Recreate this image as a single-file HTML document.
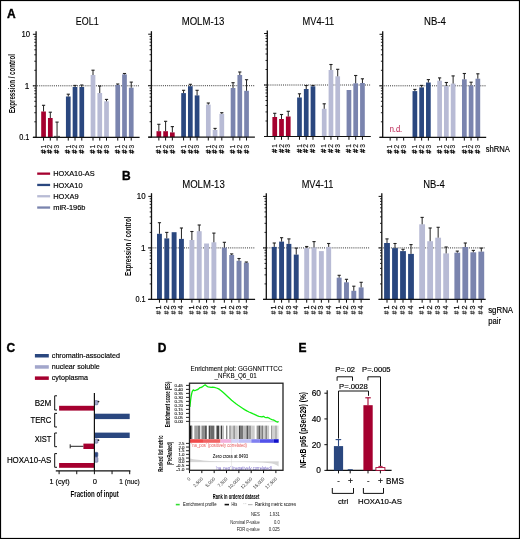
<!DOCTYPE html>
<html><head><meta charset="utf-8"><style>
html,body{margin:0;padding:0;background:#fff;}
svg{display:block;will-change:transform;}
text{font-family:"Liberation Sans",sans-serif;}
</style></head><body>
<svg width="520" height="539" viewBox="0 0 520 539">
<rect x="0.5" y="0.5" width="519" height="538" fill="#fff" stroke="#000" stroke-width="1.2"/>
<text x="7" y="17.5" font-size="12" text-anchor="start" fill="#000" stroke="#000" stroke-width="0.35" font-weight="bold">A</text>
<text x="87.2" y="25.3" font-size="10.2" text-anchor="middle" fill="#000" stroke="#000" stroke-width="0.1" textLength="22.8" lengthAdjust="spacingAndGlyphs">EOL1</text>
<line x1="36.10" y1="31.30" x2="36.10" y2="137.80" stroke="#111" stroke-width="1.3"/>
<line x1="32.90" y1="137.30" x2="36.10" y2="137.30" stroke="#111" stroke-width="1"/>
<line x1="34.30" y1="121.80" x2="36.10" y2="121.80" stroke="#111" stroke-width="0.9"/>
<line x1="34.30" y1="112.73" x2="36.10" y2="112.73" stroke="#111" stroke-width="0.9"/>
<line x1="34.30" y1="106.29" x2="36.10" y2="106.29" stroke="#111" stroke-width="0.9"/>
<line x1="34.30" y1="101.30" x2="36.10" y2="101.30" stroke="#111" stroke-width="0.9"/>
<line x1="34.30" y1="97.23" x2="36.10" y2="97.23" stroke="#111" stroke-width="0.9"/>
<line x1="34.30" y1="93.78" x2="36.10" y2="93.78" stroke="#111" stroke-width="0.9"/>
<line x1="34.30" y1="90.79" x2="36.10" y2="90.79" stroke="#111" stroke-width="0.9"/>
<line x1="34.30" y1="88.16" x2="36.10" y2="88.16" stroke="#111" stroke-width="0.9"/>
<line x1="32.90" y1="85.80" x2="36.10" y2="85.80" stroke="#111" stroke-width="1"/>
<line x1="34.30" y1="70.30" x2="36.10" y2="70.30" stroke="#111" stroke-width="0.9"/>
<line x1="34.30" y1="61.23" x2="36.10" y2="61.23" stroke="#111" stroke-width="0.9"/>
<line x1="34.30" y1="54.79" x2="36.10" y2="54.79" stroke="#111" stroke-width="0.9"/>
<line x1="34.30" y1="49.80" x2="36.10" y2="49.80" stroke="#111" stroke-width="0.9"/>
<line x1="34.30" y1="45.73" x2="36.10" y2="45.73" stroke="#111" stroke-width="0.9"/>
<line x1="34.30" y1="42.28" x2="36.10" y2="42.28" stroke="#111" stroke-width="0.9"/>
<line x1="34.30" y1="39.29" x2="36.10" y2="39.29" stroke="#111" stroke-width="0.9"/>
<line x1="34.30" y1="36.66" x2="36.10" y2="36.66" stroke="#111" stroke-width="0.9"/>
<line x1="32.90" y1="34.30" x2="36.10" y2="34.30" stroke="#111" stroke-width="1"/>
<line x1="32.90" y1="85.80" x2="139.60" y2="85.80" stroke="#333" stroke-width="1" stroke-dasharray="1,1.1"/>
<rect x="41.20" y="111.50" width="4.70" height="25.80" fill="#a5002f"/>
<line x1="43.55" y1="105.30" x2="43.55" y2="111.50" stroke="#222" stroke-width="1"/>
<line x1="41.95" y1="105.30" x2="45.15" y2="105.30" stroke="#222" stroke-width="1.1"/>
<line x1="43.55" y1="137.30" x2="43.55" y2="140.60" stroke="#111" stroke-width="1"/>
<rect x="47.95" y="118.00" width="4.70" height="19.30" fill="#a5002f"/>
<line x1="50.30" y1="112.20" x2="50.30" y2="118.00" stroke="#222" stroke-width="1"/>
<line x1="48.70" y1="112.20" x2="51.90" y2="112.20" stroke="#222" stroke-width="1.1"/>
<line x1="50.30" y1="137.30" x2="50.30" y2="140.60" stroke="#111" stroke-width="1"/>
<rect x="54.70" y="137.00" width="4.70" height="0.30" fill="#a5002f"/>
<line x1="57.05" y1="122.10" x2="57.05" y2="137.00" stroke="#222" stroke-width="1"/>
<line x1="55.45" y1="122.10" x2="58.65" y2="122.10" stroke="#222" stroke-width="1.1"/>
<line x1="57.05" y1="137.30" x2="57.05" y2="140.60" stroke="#111" stroke-width="1"/>
<rect x="65.93" y="96.50" width="4.70" height="40.80" fill="#2a477f"/>
<line x1="68.28" y1="94.20" x2="68.28" y2="96.50" stroke="#222" stroke-width="1"/>
<line x1="66.68" y1="94.20" x2="69.88" y2="94.20" stroke="#222" stroke-width="1.1"/>
<line x1="68.28" y1="137.30" x2="68.28" y2="140.60" stroke="#111" stroke-width="1"/>
<rect x="72.68" y="87.00" width="4.70" height="50.30" fill="#2a477f"/>
<line x1="75.03" y1="85.40" x2="75.03" y2="87.00" stroke="#222" stroke-width="1"/>
<line x1="73.43" y1="85.40" x2="76.63" y2="85.40" stroke="#222" stroke-width="1.1"/>
<line x1="75.03" y1="137.30" x2="75.03" y2="140.60" stroke="#111" stroke-width="1"/>
<rect x="79.43" y="87.00" width="4.70" height="50.30" fill="#2a477f"/>
<line x1="81.78" y1="85.00" x2="81.78" y2="87.00" stroke="#222" stroke-width="1"/>
<line x1="80.18" y1="85.00" x2="83.38" y2="85.00" stroke="#222" stroke-width="1.1"/>
<line x1="81.78" y1="137.30" x2="81.78" y2="140.60" stroke="#111" stroke-width="1"/>
<rect x="90.66" y="75.00" width="4.70" height="62.30" fill="#b8bbd5"/>
<line x1="93.01" y1="70.20" x2="93.01" y2="75.00" stroke="#222" stroke-width="1"/>
<line x1="91.41" y1="70.20" x2="94.61" y2="70.20" stroke="#222" stroke-width="1.1"/>
<line x1="93.01" y1="137.30" x2="93.01" y2="140.60" stroke="#111" stroke-width="1"/>
<rect x="97.41" y="93.00" width="4.70" height="44.30" fill="#b8bbd5"/>
<line x1="99.76" y1="86.00" x2="99.76" y2="93.00" stroke="#222" stroke-width="1"/>
<line x1="98.16" y1="86.00" x2="101.36" y2="86.00" stroke="#222" stroke-width="1.1"/>
<line x1="99.76" y1="137.30" x2="99.76" y2="140.60" stroke="#111" stroke-width="1"/>
<rect x="104.16" y="101.30" width="4.70" height="36.00" fill="#b8bbd5"/>
<line x1="106.51" y1="99.40" x2="106.51" y2="101.30" stroke="#222" stroke-width="1"/>
<line x1="104.91" y1="99.40" x2="108.11" y2="99.40" stroke="#222" stroke-width="1.1"/>
<line x1="106.51" y1="137.30" x2="106.51" y2="140.60" stroke="#111" stroke-width="1"/>
<rect x="115.39" y="85.00" width="4.70" height="52.30" fill="#7a84ae"/>
<line x1="117.74" y1="84.00" x2="117.74" y2="85.00" stroke="#222" stroke-width="1"/>
<line x1="116.14" y1="84.00" x2="119.34" y2="84.00" stroke="#222" stroke-width="1.1"/>
<line x1="117.74" y1="137.30" x2="117.74" y2="140.60" stroke="#111" stroke-width="1"/>
<rect x="122.14" y="74.40" width="4.70" height="62.90" fill="#7a84ae"/>
<line x1="124.49" y1="73.50" x2="124.49" y2="74.40" stroke="#222" stroke-width="1"/>
<line x1="122.89" y1="73.50" x2="126.09" y2="73.50" stroke="#222" stroke-width="1.1"/>
<line x1="124.49" y1="137.30" x2="124.49" y2="140.60" stroke="#111" stroke-width="1"/>
<rect x="128.89" y="87.70" width="4.70" height="49.60" fill="#7a84ae"/>
<line x1="131.24" y1="82.10" x2="131.24" y2="87.70" stroke="#222" stroke-width="1"/>
<line x1="129.64" y1="82.10" x2="132.84" y2="82.10" stroke="#222" stroke-width="1.1"/>
<line x1="131.24" y1="137.30" x2="131.24" y2="140.60" stroke="#111" stroke-width="1"/>
<line x1="32.90" y1="137.30" x2="139.60" y2="137.30" stroke="#111" stroke-width="1.2"/>
<text x="45.70" y="153.60" font-size="6.8" fill="#111" stroke="#111" stroke-width="0.4" transform="rotate(-90 45.70 153.60)">#</text>
<text x="45.70" y="148.50" font-size="6.6" fill="#111" stroke="#111" stroke-width="0.15" transform="rotate(-90 45.70 148.50)">1</text>
<text x="52.45" y="153.60" font-size="6.8" fill="#111" stroke="#111" stroke-width="0.4" transform="rotate(-90 52.45 153.60)">#</text>
<text x="52.45" y="148.50" font-size="6.6" fill="#111" stroke="#111" stroke-width="0.15" transform="rotate(-90 52.45 148.50)">2</text>
<text x="59.20" y="153.60" font-size="6.8" fill="#111" stroke="#111" stroke-width="0.4" transform="rotate(-90 59.20 153.60)">#</text>
<text x="59.20" y="148.50" font-size="6.6" fill="#111" stroke="#111" stroke-width="0.15" transform="rotate(-90 59.20 148.50)">3</text>
<text x="70.50" y="153.60" font-size="6.8" fill="#111" stroke="#111" stroke-width="0.4" transform="rotate(-90 70.50 153.60)">#</text>
<text x="70.50" y="148.50" font-size="6.6" fill="#111" stroke="#111" stroke-width="0.15" transform="rotate(-90 70.50 148.50)">1</text>
<text x="77.25" y="153.60" font-size="6.8" fill="#111" stroke="#111" stroke-width="0.4" transform="rotate(-90 77.25 153.60)">#</text>
<text x="77.25" y="148.50" font-size="6.6" fill="#111" stroke="#111" stroke-width="0.15" transform="rotate(-90 77.25 148.50)">2</text>
<text x="84.00" y="153.60" font-size="6.8" fill="#111" stroke="#111" stroke-width="0.4" transform="rotate(-90 84.00 153.60)">#</text>
<text x="84.00" y="148.50" font-size="6.6" fill="#111" stroke="#111" stroke-width="0.15" transform="rotate(-90 84.00 148.50)">3</text>
<text x="95.30" y="153.60" font-size="6.8" fill="#111" stroke="#111" stroke-width="0.4" transform="rotate(-90 95.30 153.60)">#</text>
<text x="95.30" y="148.50" font-size="6.6" fill="#111" stroke="#111" stroke-width="0.15" transform="rotate(-90 95.30 148.50)">1</text>
<text x="102.05" y="153.60" font-size="6.8" fill="#111" stroke="#111" stroke-width="0.4" transform="rotate(-90 102.05 153.60)">#</text>
<text x="102.05" y="148.50" font-size="6.6" fill="#111" stroke="#111" stroke-width="0.15" transform="rotate(-90 102.05 148.50)">2</text>
<text x="108.80" y="153.60" font-size="6.8" fill="#111" stroke="#111" stroke-width="0.4" transform="rotate(-90 108.80 153.60)">#</text>
<text x="108.80" y="148.50" font-size="6.6" fill="#111" stroke="#111" stroke-width="0.15" transform="rotate(-90 108.80 148.50)">3</text>
<text x="120.10" y="153.60" font-size="6.8" fill="#111" stroke="#111" stroke-width="0.4" transform="rotate(-90 120.10 153.60)">#</text>
<text x="120.10" y="148.50" font-size="6.6" fill="#111" stroke="#111" stroke-width="0.15" transform="rotate(-90 120.10 148.50)">1</text>
<text x="126.85" y="153.60" font-size="6.8" fill="#111" stroke="#111" stroke-width="0.4" transform="rotate(-90 126.85 153.60)">#</text>
<text x="126.85" y="148.50" font-size="6.6" fill="#111" stroke="#111" stroke-width="0.15" transform="rotate(-90 126.85 148.50)">2</text>
<text x="133.60" y="153.60" font-size="6.8" fill="#111" stroke="#111" stroke-width="0.4" transform="rotate(-90 133.60 153.60)">#</text>
<text x="133.60" y="148.50" font-size="6.6" fill="#111" stroke="#111" stroke-width="0.15" transform="rotate(-90 133.60 148.50)">3</text>
<text x="203" y="25.3" font-size="10.2" text-anchor="middle" fill="#000" stroke="#000" stroke-width="0.1" textLength="42.7" lengthAdjust="spacingAndGlyphs">MOLM-13</text>
<line x1="151.40" y1="31.20" x2="151.40" y2="137.70" stroke="#111" stroke-width="1.3"/>
<line x1="148.20" y1="137.20" x2="151.40" y2="137.20" stroke="#111" stroke-width="1"/>
<line x1="149.60" y1="121.70" x2="151.40" y2="121.70" stroke="#111" stroke-width="0.9"/>
<line x1="149.60" y1="112.63" x2="151.40" y2="112.63" stroke="#111" stroke-width="0.9"/>
<line x1="149.60" y1="106.19" x2="151.40" y2="106.19" stroke="#111" stroke-width="0.9"/>
<line x1="149.60" y1="101.20" x2="151.40" y2="101.20" stroke="#111" stroke-width="0.9"/>
<line x1="149.60" y1="97.13" x2="151.40" y2="97.13" stroke="#111" stroke-width="0.9"/>
<line x1="149.60" y1="93.68" x2="151.40" y2="93.68" stroke="#111" stroke-width="0.9"/>
<line x1="149.60" y1="90.69" x2="151.40" y2="90.69" stroke="#111" stroke-width="0.9"/>
<line x1="149.60" y1="88.06" x2="151.40" y2="88.06" stroke="#111" stroke-width="0.9"/>
<line x1="148.20" y1="85.70" x2="151.40" y2="85.70" stroke="#111" stroke-width="1"/>
<line x1="149.60" y1="70.20" x2="151.40" y2="70.20" stroke="#111" stroke-width="0.9"/>
<line x1="149.60" y1="61.13" x2="151.40" y2="61.13" stroke="#111" stroke-width="0.9"/>
<line x1="149.60" y1="54.69" x2="151.40" y2="54.69" stroke="#111" stroke-width="0.9"/>
<line x1="149.60" y1="49.70" x2="151.40" y2="49.70" stroke="#111" stroke-width="0.9"/>
<line x1="149.60" y1="45.63" x2="151.40" y2="45.63" stroke="#111" stroke-width="0.9"/>
<line x1="149.60" y1="42.18" x2="151.40" y2="42.18" stroke="#111" stroke-width="0.9"/>
<line x1="149.60" y1="39.19" x2="151.40" y2="39.19" stroke="#111" stroke-width="0.9"/>
<line x1="149.60" y1="36.56" x2="151.40" y2="36.56" stroke="#111" stroke-width="0.9"/>
<line x1="148.20" y1="34.20" x2="151.40" y2="34.20" stroke="#111" stroke-width="1"/>
<line x1="148.20" y1="85.70" x2="254.90" y2="85.70" stroke="#333" stroke-width="1" stroke-dasharray="1,1.1"/>
<rect x="156.50" y="131.20" width="4.70" height="6.00" fill="#a5002f"/>
<line x1="158.85" y1="124.30" x2="158.85" y2="131.20" stroke="#222" stroke-width="1"/>
<line x1="157.25" y1="124.30" x2="160.45" y2="124.30" stroke="#222" stroke-width="1.1"/>
<line x1="158.85" y1="137.20" x2="158.85" y2="140.50" stroke="#111" stroke-width="1"/>
<rect x="163.25" y="131.20" width="4.70" height="6.00" fill="#a5002f"/>
<line x1="165.60" y1="121.30" x2="165.60" y2="131.20" stroke="#222" stroke-width="1"/>
<line x1="164.00" y1="121.30" x2="167.20" y2="121.30" stroke="#222" stroke-width="1.1"/>
<line x1="165.60" y1="137.20" x2="165.60" y2="140.50" stroke="#111" stroke-width="1"/>
<rect x="170.00" y="132.40" width="4.70" height="4.80" fill="#a5002f"/>
<line x1="172.35" y1="126.60" x2="172.35" y2="132.40" stroke="#222" stroke-width="1"/>
<line x1="170.75" y1="126.60" x2="173.95" y2="126.60" stroke="#222" stroke-width="1.1"/>
<line x1="172.35" y1="137.20" x2="172.35" y2="140.50" stroke="#111" stroke-width="1"/>
<rect x="181.23" y="93.10" width="4.70" height="44.10" fill="#2a477f"/>
<line x1="183.58" y1="90.30" x2="183.58" y2="93.10" stroke="#222" stroke-width="1"/>
<line x1="181.98" y1="90.30" x2="185.18" y2="90.30" stroke="#222" stroke-width="1.1"/>
<line x1="183.58" y1="137.20" x2="183.58" y2="140.50" stroke="#111" stroke-width="1"/>
<rect x="187.98" y="86.20" width="4.70" height="51.00" fill="#2a477f"/>
<line x1="190.33" y1="84.30" x2="190.33" y2="86.20" stroke="#222" stroke-width="1"/>
<line x1="188.73" y1="84.30" x2="191.93" y2="84.30" stroke="#222" stroke-width="1.1"/>
<line x1="190.33" y1="137.20" x2="190.33" y2="140.50" stroke="#111" stroke-width="1"/>
<rect x="194.73" y="95.40" width="4.70" height="41.80" fill="#2a477f"/>
<line x1="197.08" y1="90.30" x2="197.08" y2="95.40" stroke="#222" stroke-width="1"/>
<line x1="195.48" y1="90.30" x2="198.68" y2="90.30" stroke="#222" stroke-width="1.1"/>
<line x1="197.08" y1="137.20" x2="197.08" y2="140.50" stroke="#111" stroke-width="1"/>
<rect x="205.96" y="104.60" width="4.70" height="32.60" fill="#b8bbd5"/>
<line x1="208.31" y1="103.00" x2="208.31" y2="104.60" stroke="#222" stroke-width="1"/>
<line x1="206.71" y1="103.00" x2="209.91" y2="103.00" stroke="#222" stroke-width="1.1"/>
<line x1="208.31" y1="137.20" x2="208.31" y2="140.50" stroke="#111" stroke-width="1"/>
<rect x="212.71" y="130.00" width="4.70" height="7.20" fill="#b8bbd5"/>
<line x1="215.06" y1="128.40" x2="215.06" y2="130.00" stroke="#222" stroke-width="1"/>
<line x1="213.46" y1="128.40" x2="216.66" y2="128.40" stroke="#222" stroke-width="1.1"/>
<line x1="215.06" y1="137.20" x2="215.06" y2="140.50" stroke="#111" stroke-width="1"/>
<rect x="219.46" y="113.90" width="4.70" height="23.30" fill="#b8bbd5"/>
<line x1="221.81" y1="112.70" x2="221.81" y2="113.90" stroke="#222" stroke-width="1"/>
<line x1="220.21" y1="112.70" x2="223.41" y2="112.70" stroke="#222" stroke-width="1.1"/>
<line x1="221.81" y1="137.20" x2="221.81" y2="140.50" stroke="#111" stroke-width="1"/>
<rect x="230.69" y="88.00" width="4.70" height="49.20" fill="#7a84ae"/>
<line x1="233.04" y1="82.70" x2="233.04" y2="88.00" stroke="#222" stroke-width="1"/>
<line x1="231.44" y1="82.70" x2="234.64" y2="82.70" stroke="#222" stroke-width="1.1"/>
<line x1="233.04" y1="137.20" x2="233.04" y2="140.50" stroke="#111" stroke-width="1"/>
<rect x="237.44" y="75.00" width="4.70" height="62.20" fill="#7a84ae"/>
<line x1="239.79" y1="72.00" x2="239.79" y2="75.00" stroke="#222" stroke-width="1"/>
<line x1="238.19" y1="72.00" x2="241.39" y2="72.00" stroke="#222" stroke-width="1.1"/>
<line x1="239.79" y1="137.20" x2="239.79" y2="140.50" stroke="#111" stroke-width="1"/>
<rect x="244.19" y="90.80" width="4.70" height="46.40" fill="#7a84ae"/>
<line x1="246.54" y1="79.70" x2="246.54" y2="90.80" stroke="#222" stroke-width="1"/>
<line x1="244.94" y1="79.70" x2="248.14" y2="79.70" stroke="#222" stroke-width="1.1"/>
<line x1="246.54" y1="137.20" x2="246.54" y2="140.50" stroke="#111" stroke-width="1"/>
<line x1="148.20" y1="137.20" x2="254.90" y2="137.20" stroke="#111" stroke-width="1.2"/>
<text x="161.00" y="153.50" font-size="6.8" fill="#111" stroke="#111" stroke-width="0.4" transform="rotate(-90 161.00 153.50)">#</text>
<text x="161.00" y="148.40" font-size="6.6" fill="#111" stroke="#111" stroke-width="0.15" transform="rotate(-90 161.00 148.40)">1</text>
<text x="167.75" y="153.50" font-size="6.8" fill="#111" stroke="#111" stroke-width="0.4" transform="rotate(-90 167.75 153.50)">#</text>
<text x="167.75" y="148.40" font-size="6.6" fill="#111" stroke="#111" stroke-width="0.15" transform="rotate(-90 167.75 148.40)">2</text>
<text x="174.50" y="153.50" font-size="6.8" fill="#111" stroke="#111" stroke-width="0.4" transform="rotate(-90 174.50 153.50)">#</text>
<text x="174.50" y="148.40" font-size="6.6" fill="#111" stroke="#111" stroke-width="0.15" transform="rotate(-90 174.50 148.40)">3</text>
<text x="185.80" y="153.50" font-size="6.8" fill="#111" stroke="#111" stroke-width="0.4" transform="rotate(-90 185.80 153.50)">#</text>
<text x="185.80" y="148.40" font-size="6.6" fill="#111" stroke="#111" stroke-width="0.15" transform="rotate(-90 185.80 148.40)">1</text>
<text x="192.55" y="153.50" font-size="6.8" fill="#111" stroke="#111" stroke-width="0.4" transform="rotate(-90 192.55 153.50)">#</text>
<text x="192.55" y="148.40" font-size="6.6" fill="#111" stroke="#111" stroke-width="0.15" transform="rotate(-90 192.55 148.40)">2</text>
<text x="199.30" y="153.50" font-size="6.8" fill="#111" stroke="#111" stroke-width="0.4" transform="rotate(-90 199.30 153.50)">#</text>
<text x="199.30" y="148.40" font-size="6.6" fill="#111" stroke="#111" stroke-width="0.15" transform="rotate(-90 199.30 148.40)">3</text>
<text x="210.60" y="153.50" font-size="6.8" fill="#111" stroke="#111" stroke-width="0.4" transform="rotate(-90 210.60 153.50)">#</text>
<text x="210.60" y="148.40" font-size="6.6" fill="#111" stroke="#111" stroke-width="0.15" transform="rotate(-90 210.60 148.40)">1</text>
<text x="217.35" y="153.50" font-size="6.8" fill="#111" stroke="#111" stroke-width="0.4" transform="rotate(-90 217.35 153.50)">#</text>
<text x="217.35" y="148.40" font-size="6.6" fill="#111" stroke="#111" stroke-width="0.15" transform="rotate(-90 217.35 148.40)">2</text>
<text x="224.10" y="153.50" font-size="6.8" fill="#111" stroke="#111" stroke-width="0.4" transform="rotate(-90 224.10 153.50)">#</text>
<text x="224.10" y="148.40" font-size="6.6" fill="#111" stroke="#111" stroke-width="0.15" transform="rotate(-90 224.10 148.40)">3</text>
<text x="235.40" y="153.50" font-size="6.8" fill="#111" stroke="#111" stroke-width="0.4" transform="rotate(-90 235.40 153.50)">#</text>
<text x="235.40" y="148.40" font-size="6.6" fill="#111" stroke="#111" stroke-width="0.15" transform="rotate(-90 235.40 148.40)">1</text>
<text x="242.15" y="153.50" font-size="6.8" fill="#111" stroke="#111" stroke-width="0.4" transform="rotate(-90 242.15 153.50)">#</text>
<text x="242.15" y="148.40" font-size="6.6" fill="#111" stroke="#111" stroke-width="0.15" transform="rotate(-90 242.15 148.40)">2</text>
<text x="248.90" y="153.50" font-size="6.8" fill="#111" stroke="#111" stroke-width="0.4" transform="rotate(-90 248.90 153.50)">#</text>
<text x="248.90" y="148.40" font-size="6.6" fill="#111" stroke="#111" stroke-width="0.15" transform="rotate(-90 248.90 148.40)">3</text>
<text x="318.4" y="25.3" font-size="10.2" text-anchor="middle" fill="#000" stroke="#000" stroke-width="0.1" textLength="31.7" lengthAdjust="spacingAndGlyphs">MV4-11</text>
<line x1="267.30" y1="30.50" x2="267.30" y2="137.00" stroke="#111" stroke-width="1.3"/>
<line x1="264.10" y1="136.50" x2="267.30" y2="136.50" stroke="#111" stroke-width="1"/>
<line x1="265.50" y1="121.00" x2="267.30" y2="121.00" stroke="#111" stroke-width="0.9"/>
<line x1="265.50" y1="111.93" x2="267.30" y2="111.93" stroke="#111" stroke-width="0.9"/>
<line x1="265.50" y1="105.49" x2="267.30" y2="105.49" stroke="#111" stroke-width="0.9"/>
<line x1="265.50" y1="100.50" x2="267.30" y2="100.50" stroke="#111" stroke-width="0.9"/>
<line x1="265.50" y1="96.43" x2="267.30" y2="96.43" stroke="#111" stroke-width="0.9"/>
<line x1="265.50" y1="92.98" x2="267.30" y2="92.98" stroke="#111" stroke-width="0.9"/>
<line x1="265.50" y1="89.99" x2="267.30" y2="89.99" stroke="#111" stroke-width="0.9"/>
<line x1="265.50" y1="87.36" x2="267.30" y2="87.36" stroke="#111" stroke-width="0.9"/>
<line x1="264.10" y1="85.00" x2="267.30" y2="85.00" stroke="#111" stroke-width="1"/>
<line x1="265.50" y1="69.50" x2="267.30" y2="69.50" stroke="#111" stroke-width="0.9"/>
<line x1="265.50" y1="60.43" x2="267.30" y2="60.43" stroke="#111" stroke-width="0.9"/>
<line x1="265.50" y1="53.99" x2="267.30" y2="53.99" stroke="#111" stroke-width="0.9"/>
<line x1="265.50" y1="49.00" x2="267.30" y2="49.00" stroke="#111" stroke-width="0.9"/>
<line x1="265.50" y1="44.93" x2="267.30" y2="44.93" stroke="#111" stroke-width="0.9"/>
<line x1="265.50" y1="41.48" x2="267.30" y2="41.48" stroke="#111" stroke-width="0.9"/>
<line x1="265.50" y1="38.49" x2="267.30" y2="38.49" stroke="#111" stroke-width="0.9"/>
<line x1="265.50" y1="35.86" x2="267.30" y2="35.86" stroke="#111" stroke-width="0.9"/>
<line x1="264.10" y1="33.50" x2="267.30" y2="33.50" stroke="#111" stroke-width="1"/>
<line x1="264.10" y1="85.00" x2="370.80" y2="85.00" stroke="#333" stroke-width="1" stroke-dasharray="1,1.1"/>
<rect x="272.40" y="117.00" width="4.70" height="19.50" fill="#a5002f"/>
<line x1="274.75" y1="113.30" x2="274.75" y2="117.00" stroke="#222" stroke-width="1"/>
<line x1="273.15" y1="113.30" x2="276.35" y2="113.30" stroke="#222" stroke-width="1.1"/>
<line x1="274.75" y1="136.50" x2="274.75" y2="139.80" stroke="#111" stroke-width="1"/>
<rect x="279.15" y="119.00" width="4.70" height="17.50" fill="#a5002f"/>
<line x1="281.50" y1="114.50" x2="281.50" y2="119.00" stroke="#222" stroke-width="1"/>
<line x1="279.90" y1="114.50" x2="283.10" y2="114.50" stroke="#222" stroke-width="1.1"/>
<line x1="281.50" y1="136.50" x2="281.50" y2="139.80" stroke="#111" stroke-width="1"/>
<rect x="285.90" y="116.50" width="4.70" height="20.00" fill="#a5002f"/>
<line x1="288.25" y1="111.30" x2="288.25" y2="116.50" stroke="#222" stroke-width="1"/>
<line x1="286.65" y1="111.30" x2="289.85" y2="111.30" stroke="#222" stroke-width="1.1"/>
<line x1="288.25" y1="136.50" x2="288.25" y2="139.80" stroke="#111" stroke-width="1"/>
<rect x="297.13" y="97.50" width="4.70" height="39.00" fill="#2a477f"/>
<line x1="299.48" y1="93.80" x2="299.48" y2="97.50" stroke="#222" stroke-width="1"/>
<line x1="297.88" y1="93.80" x2="301.08" y2="93.80" stroke="#222" stroke-width="1.1"/>
<line x1="299.48" y1="136.50" x2="299.48" y2="139.80" stroke="#111" stroke-width="1"/>
<rect x="303.88" y="89.00" width="4.70" height="47.50" fill="#2a477f"/>
<line x1="306.23" y1="85.50" x2="306.23" y2="89.00" stroke="#222" stroke-width="1"/>
<line x1="304.63" y1="85.50" x2="307.83" y2="85.50" stroke="#222" stroke-width="1.1"/>
<line x1="306.23" y1="136.50" x2="306.23" y2="139.80" stroke="#111" stroke-width="1"/>
<rect x="310.63" y="86.30" width="4.70" height="50.20" fill="#2a477f"/>
<line x1="312.98" y1="85.50" x2="312.98" y2="86.30" stroke="#222" stroke-width="1"/>
<line x1="311.38" y1="85.50" x2="314.58" y2="85.50" stroke="#222" stroke-width="1.1"/>
<line x1="312.98" y1="136.50" x2="312.98" y2="139.80" stroke="#111" stroke-width="1"/>
<rect x="321.86" y="108.80" width="4.70" height="27.70" fill="#b8bbd5"/>
<line x1="324.21" y1="103.80" x2="324.21" y2="108.80" stroke="#222" stroke-width="1"/>
<line x1="322.61" y1="103.80" x2="325.81" y2="103.80" stroke="#222" stroke-width="1.1"/>
<line x1="324.21" y1="136.50" x2="324.21" y2="139.80" stroke="#111" stroke-width="1"/>
<rect x="328.61" y="70.00" width="4.70" height="66.50" fill="#b8bbd5"/>
<line x1="330.96" y1="64.50" x2="330.96" y2="70.00" stroke="#222" stroke-width="1"/>
<line x1="329.36" y1="64.50" x2="332.56" y2="64.50" stroke="#222" stroke-width="1.1"/>
<line x1="330.96" y1="136.50" x2="330.96" y2="139.80" stroke="#111" stroke-width="1"/>
<rect x="335.36" y="76.30" width="4.70" height="60.20" fill="#b8bbd5"/>
<line x1="337.71" y1="69.30" x2="337.71" y2="76.30" stroke="#222" stroke-width="1"/>
<line x1="336.11" y1="69.30" x2="339.31" y2="69.30" stroke="#222" stroke-width="1.1"/>
<line x1="337.71" y1="136.50" x2="337.71" y2="139.80" stroke="#111" stroke-width="1"/>
<rect x="346.59" y="90.00" width="4.70" height="46.50" fill="#7a84ae"/>
<line x1="348.94" y1="136.50" x2="348.94" y2="139.80" stroke="#111" stroke-width="1"/>
<rect x="353.34" y="83.30" width="4.70" height="53.20" fill="#7a84ae"/>
<line x1="355.69" y1="75.50" x2="355.69" y2="83.30" stroke="#222" stroke-width="1"/>
<line x1="354.09" y1="75.50" x2="357.29" y2="75.50" stroke="#222" stroke-width="1.1"/>
<line x1="355.69" y1="136.50" x2="355.69" y2="139.80" stroke="#111" stroke-width="1"/>
<rect x="360.09" y="83.00" width="4.70" height="53.50" fill="#7a84ae"/>
<line x1="362.44" y1="78.80" x2="362.44" y2="83.00" stroke="#222" stroke-width="1"/>
<line x1="360.84" y1="78.80" x2="364.04" y2="78.80" stroke="#222" stroke-width="1.1"/>
<line x1="362.44" y1="136.50" x2="362.44" y2="139.80" stroke="#111" stroke-width="1"/>
<line x1="264.10" y1="136.50" x2="370.80" y2="136.50" stroke="#111" stroke-width="1.2"/>
<text x="276.90" y="152.80" font-size="6.8" fill="#111" stroke="#111" stroke-width="0.4" transform="rotate(-90 276.90 152.80)">#</text>
<text x="276.90" y="147.70" font-size="6.6" fill="#111" stroke="#111" stroke-width="0.15" transform="rotate(-90 276.90 147.70)">1</text>
<text x="283.65" y="152.80" font-size="6.8" fill="#111" stroke="#111" stroke-width="0.4" transform="rotate(-90 283.65 152.80)">#</text>
<text x="283.65" y="147.70" font-size="6.6" fill="#111" stroke="#111" stroke-width="0.15" transform="rotate(-90 283.65 147.70)">2</text>
<text x="290.40" y="152.80" font-size="6.8" fill="#111" stroke="#111" stroke-width="0.4" transform="rotate(-90 290.40 152.80)">#</text>
<text x="290.40" y="147.70" font-size="6.6" fill="#111" stroke="#111" stroke-width="0.15" transform="rotate(-90 290.40 147.70)">3</text>
<text x="301.70" y="152.80" font-size="6.8" fill="#111" stroke="#111" stroke-width="0.4" transform="rotate(-90 301.70 152.80)">#</text>
<text x="301.70" y="147.70" font-size="6.6" fill="#111" stroke="#111" stroke-width="0.15" transform="rotate(-90 301.70 147.70)">1</text>
<text x="308.45" y="152.80" font-size="6.8" fill="#111" stroke="#111" stroke-width="0.4" transform="rotate(-90 308.45 152.80)">#</text>
<text x="308.45" y="147.70" font-size="6.6" fill="#111" stroke="#111" stroke-width="0.15" transform="rotate(-90 308.45 147.70)">2</text>
<text x="315.20" y="152.80" font-size="6.8" fill="#111" stroke="#111" stroke-width="0.4" transform="rotate(-90 315.20 152.80)">#</text>
<text x="315.20" y="147.70" font-size="6.6" fill="#111" stroke="#111" stroke-width="0.15" transform="rotate(-90 315.20 147.70)">3</text>
<text x="326.50" y="152.80" font-size="6.8" fill="#111" stroke="#111" stroke-width="0.4" transform="rotate(-90 326.50 152.80)">#</text>
<text x="326.50" y="147.70" font-size="6.6" fill="#111" stroke="#111" stroke-width="0.15" transform="rotate(-90 326.50 147.70)">1</text>
<text x="333.25" y="152.80" font-size="6.8" fill="#111" stroke="#111" stroke-width="0.4" transform="rotate(-90 333.25 152.80)">#</text>
<text x="333.25" y="147.70" font-size="6.6" fill="#111" stroke="#111" stroke-width="0.15" transform="rotate(-90 333.25 147.70)">2</text>
<text x="340.00" y="152.80" font-size="6.8" fill="#111" stroke="#111" stroke-width="0.4" transform="rotate(-90 340.00 152.80)">#</text>
<text x="340.00" y="147.70" font-size="6.6" fill="#111" stroke="#111" stroke-width="0.15" transform="rotate(-90 340.00 147.70)">3</text>
<text x="351.30" y="152.80" font-size="6.8" fill="#111" stroke="#111" stroke-width="0.4" transform="rotate(-90 351.30 152.80)">#</text>
<text x="351.30" y="147.70" font-size="6.6" fill="#111" stroke="#111" stroke-width="0.15" transform="rotate(-90 351.30 147.70)">1</text>
<text x="358.05" y="152.80" font-size="6.8" fill="#111" stroke="#111" stroke-width="0.4" transform="rotate(-90 358.05 152.80)">#</text>
<text x="358.05" y="147.70" font-size="6.6" fill="#111" stroke="#111" stroke-width="0.15" transform="rotate(-90 358.05 147.70)">2</text>
<text x="364.80" y="152.80" font-size="6.8" fill="#111" stroke="#111" stroke-width="0.4" transform="rotate(-90 364.80 152.80)">#</text>
<text x="364.80" y="147.70" font-size="6.6" fill="#111" stroke="#111" stroke-width="0.15" transform="rotate(-90 364.80 147.70)">3</text>
<text x="434.9" y="25.3" font-size="10.2" text-anchor="middle" fill="#000" stroke="#000" stroke-width="0.1" textLength="21.8" lengthAdjust="spacingAndGlyphs">NB-4</text>
<line x1="382.70" y1="31.30" x2="382.70" y2="137.80" stroke="#111" stroke-width="1.3"/>
<line x1="379.50" y1="137.30" x2="382.70" y2="137.30" stroke="#111" stroke-width="1"/>
<line x1="380.90" y1="121.80" x2="382.70" y2="121.80" stroke="#111" stroke-width="0.9"/>
<line x1="380.90" y1="112.73" x2="382.70" y2="112.73" stroke="#111" stroke-width="0.9"/>
<line x1="380.90" y1="106.29" x2="382.70" y2="106.29" stroke="#111" stroke-width="0.9"/>
<line x1="380.90" y1="101.30" x2="382.70" y2="101.30" stroke="#111" stroke-width="0.9"/>
<line x1="380.90" y1="97.23" x2="382.70" y2="97.23" stroke="#111" stroke-width="0.9"/>
<line x1="380.90" y1="93.78" x2="382.70" y2="93.78" stroke="#111" stroke-width="0.9"/>
<line x1="380.90" y1="90.79" x2="382.70" y2="90.79" stroke="#111" stroke-width="0.9"/>
<line x1="380.90" y1="88.16" x2="382.70" y2="88.16" stroke="#111" stroke-width="0.9"/>
<line x1="379.50" y1="85.80" x2="382.70" y2="85.80" stroke="#111" stroke-width="1"/>
<line x1="380.90" y1="70.30" x2="382.70" y2="70.30" stroke="#111" stroke-width="0.9"/>
<line x1="380.90" y1="61.23" x2="382.70" y2="61.23" stroke="#111" stroke-width="0.9"/>
<line x1="380.90" y1="54.79" x2="382.70" y2="54.79" stroke="#111" stroke-width="0.9"/>
<line x1="380.90" y1="49.80" x2="382.70" y2="49.80" stroke="#111" stroke-width="0.9"/>
<line x1="380.90" y1="45.73" x2="382.70" y2="45.73" stroke="#111" stroke-width="0.9"/>
<line x1="380.90" y1="42.28" x2="382.70" y2="42.28" stroke="#111" stroke-width="0.9"/>
<line x1="380.90" y1="39.29" x2="382.70" y2="39.29" stroke="#111" stroke-width="0.9"/>
<line x1="380.90" y1="36.66" x2="382.70" y2="36.66" stroke="#111" stroke-width="0.9"/>
<line x1="379.50" y1="34.30" x2="382.70" y2="34.30" stroke="#111" stroke-width="1"/>
<line x1="379.50" y1="85.80" x2="486.20" y2="85.80" stroke="#333" stroke-width="1" stroke-dasharray="1,1.1"/>
<line x1="390.15" y1="137.30" x2="390.15" y2="140.60" stroke="#111" stroke-width="1"/>
<line x1="396.90" y1="137.30" x2="396.90" y2="140.60" stroke="#111" stroke-width="1"/>
<line x1="403.65" y1="137.30" x2="403.65" y2="140.60" stroke="#111" stroke-width="1"/>
<rect x="412.53" y="91.10" width="4.70" height="46.20" fill="#2a477f"/>
<line x1="414.88" y1="89.40" x2="414.88" y2="91.10" stroke="#222" stroke-width="1"/>
<line x1="413.28" y1="89.40" x2="416.48" y2="89.40" stroke="#222" stroke-width="1.1"/>
<line x1="414.88" y1="137.30" x2="414.88" y2="140.60" stroke="#111" stroke-width="1"/>
<rect x="419.28" y="87.40" width="4.70" height="49.90" fill="#2a477f"/>
<line x1="421.63" y1="85.40" x2="421.63" y2="87.40" stroke="#222" stroke-width="1"/>
<line x1="420.03" y1="85.40" x2="423.23" y2="85.40" stroke="#222" stroke-width="1.1"/>
<line x1="421.63" y1="137.30" x2="421.63" y2="140.60" stroke="#111" stroke-width="1"/>
<rect x="426.03" y="82.50" width="4.70" height="54.80" fill="#2a477f"/>
<line x1="428.38" y1="79.60" x2="428.38" y2="82.50" stroke="#222" stroke-width="1"/>
<line x1="426.78" y1="79.60" x2="429.98" y2="79.60" stroke="#222" stroke-width="1.1"/>
<line x1="428.38" y1="137.30" x2="428.38" y2="140.60" stroke="#111" stroke-width="1"/>
<rect x="437.26" y="80.70" width="4.70" height="56.60" fill="#b8bbd5"/>
<line x1="439.61" y1="77.90" x2="439.61" y2="80.70" stroke="#222" stroke-width="1"/>
<line x1="438.01" y1="77.90" x2="441.21" y2="77.90" stroke="#222" stroke-width="1.1"/>
<line x1="439.61" y1="137.30" x2="439.61" y2="140.60" stroke="#111" stroke-width="1"/>
<rect x="444.01" y="86.00" width="4.70" height="51.30" fill="#b8bbd5"/>
<line x1="446.36" y1="82.50" x2="446.36" y2="86.00" stroke="#222" stroke-width="1"/>
<line x1="444.76" y1="82.50" x2="447.96" y2="82.50" stroke="#222" stroke-width="1.1"/>
<line x1="446.36" y1="137.30" x2="446.36" y2="140.60" stroke="#111" stroke-width="1"/>
<rect x="450.76" y="83.60" width="4.70" height="53.70" fill="#b8bbd5"/>
<line x1="453.11" y1="75.90" x2="453.11" y2="83.60" stroke="#222" stroke-width="1"/>
<line x1="451.51" y1="75.90" x2="454.71" y2="75.90" stroke="#222" stroke-width="1.1"/>
<line x1="453.11" y1="137.30" x2="453.11" y2="140.60" stroke="#111" stroke-width="1"/>
<rect x="461.99" y="79.30" width="4.70" height="58.00" fill="#7a84ae"/>
<line x1="464.34" y1="73.50" x2="464.34" y2="79.30" stroke="#222" stroke-width="1"/>
<line x1="462.74" y1="73.50" x2="465.94" y2="73.50" stroke="#222" stroke-width="1.1"/>
<line x1="464.34" y1="137.30" x2="464.34" y2="140.60" stroke="#111" stroke-width="1"/>
<rect x="468.74" y="85.40" width="4.70" height="51.90" fill="#7a84ae"/>
<line x1="471.09" y1="82.20" x2="471.09" y2="85.40" stroke="#222" stroke-width="1"/>
<line x1="469.49" y1="82.20" x2="472.69" y2="82.20" stroke="#222" stroke-width="1.1"/>
<line x1="471.09" y1="137.30" x2="471.09" y2="140.60" stroke="#111" stroke-width="1"/>
<rect x="475.49" y="78.70" width="4.70" height="58.60" fill="#7a84ae"/>
<line x1="477.84" y1="73.80" x2="477.84" y2="78.70" stroke="#222" stroke-width="1"/>
<line x1="476.24" y1="73.80" x2="479.44" y2="73.80" stroke="#222" stroke-width="1.1"/>
<line x1="477.84" y1="137.30" x2="477.84" y2="140.60" stroke="#111" stroke-width="1"/>
<line x1="379.50" y1="137.30" x2="486.20" y2="137.30" stroke="#111" stroke-width="1.2"/>
<text x="392.30" y="153.60" font-size="6.8" fill="#111" stroke="#111" stroke-width="0.4" transform="rotate(-90 392.30 153.60)">#</text>
<text x="392.30" y="148.50" font-size="6.6" fill="#111" stroke="#111" stroke-width="0.15" transform="rotate(-90 392.30 148.50)">1</text>
<text x="399.05" y="153.60" font-size="6.8" fill="#111" stroke="#111" stroke-width="0.4" transform="rotate(-90 399.05 153.60)">#</text>
<text x="399.05" y="148.50" font-size="6.6" fill="#111" stroke="#111" stroke-width="0.15" transform="rotate(-90 399.05 148.50)">2</text>
<text x="405.80" y="153.60" font-size="6.8" fill="#111" stroke="#111" stroke-width="0.4" transform="rotate(-90 405.80 153.60)">#</text>
<text x="405.80" y="148.50" font-size="6.6" fill="#111" stroke="#111" stroke-width="0.15" transform="rotate(-90 405.80 148.50)">3</text>
<text x="417.10" y="153.60" font-size="6.8" fill="#111" stroke="#111" stroke-width="0.4" transform="rotate(-90 417.10 153.60)">#</text>
<text x="417.10" y="148.50" font-size="6.6" fill="#111" stroke="#111" stroke-width="0.15" transform="rotate(-90 417.10 148.50)">1</text>
<text x="423.85" y="153.60" font-size="6.8" fill="#111" stroke="#111" stroke-width="0.4" transform="rotate(-90 423.85 153.60)">#</text>
<text x="423.85" y="148.50" font-size="6.6" fill="#111" stroke="#111" stroke-width="0.15" transform="rotate(-90 423.85 148.50)">2</text>
<text x="430.60" y="153.60" font-size="6.8" fill="#111" stroke="#111" stroke-width="0.4" transform="rotate(-90 430.60 153.60)">#</text>
<text x="430.60" y="148.50" font-size="6.6" fill="#111" stroke="#111" stroke-width="0.15" transform="rotate(-90 430.60 148.50)">3</text>
<text x="441.90" y="153.60" font-size="6.8" fill="#111" stroke="#111" stroke-width="0.4" transform="rotate(-90 441.90 153.60)">#</text>
<text x="441.90" y="148.50" font-size="6.6" fill="#111" stroke="#111" stroke-width="0.15" transform="rotate(-90 441.90 148.50)">1</text>
<text x="448.65" y="153.60" font-size="6.8" fill="#111" stroke="#111" stroke-width="0.4" transform="rotate(-90 448.65 153.60)">#</text>
<text x="448.65" y="148.50" font-size="6.6" fill="#111" stroke="#111" stroke-width="0.15" transform="rotate(-90 448.65 148.50)">2</text>
<text x="455.40" y="153.60" font-size="6.8" fill="#111" stroke="#111" stroke-width="0.4" transform="rotate(-90 455.40 153.60)">#</text>
<text x="455.40" y="148.50" font-size="6.6" fill="#111" stroke="#111" stroke-width="0.15" transform="rotate(-90 455.40 148.50)">3</text>
<text x="466.70" y="153.60" font-size="6.8" fill="#111" stroke="#111" stroke-width="0.4" transform="rotate(-90 466.70 153.60)">#</text>
<text x="466.70" y="148.50" font-size="6.6" fill="#111" stroke="#111" stroke-width="0.15" transform="rotate(-90 466.70 148.50)">1</text>
<text x="473.45" y="153.60" font-size="6.8" fill="#111" stroke="#111" stroke-width="0.4" transform="rotate(-90 473.45 153.60)">#</text>
<text x="473.45" y="148.50" font-size="6.6" fill="#111" stroke="#111" stroke-width="0.15" transform="rotate(-90 473.45 148.50)">2</text>
<text x="480.20" y="153.60" font-size="6.8" fill="#111" stroke="#111" stroke-width="0.4" transform="rotate(-90 480.20 153.60)">#</text>
<text x="480.20" y="148.50" font-size="6.6" fill="#111" stroke="#111" stroke-width="0.15" transform="rotate(-90 480.20 148.50)">3</text>
<rect x="53.80" y="135.90" width="6.20" height="1.20" fill="#555"/>
<text x="30.0" y="37.0" font-size="8.2" text-anchor="end" fill="#000" stroke="#000" stroke-width="0.16" textLength="8.6" lengthAdjust="spacingAndGlyphs">10</text>
<text x="29.4" y="88.6" font-size="8.2" text-anchor="end" fill="#000" stroke="#000" stroke-width="0.16">1</text>
<text x="29.4" y="140.2" font-size="8.2" text-anchor="end" fill="#000" stroke="#000" stroke-width="0.16" textLength="10.2" lengthAdjust="spacingAndGlyphs">0.1</text>
<text x="14.6" y="113.3" font-size="9.0" text-anchor="start" fill="#000" textLength="59.3" lengthAdjust="spacingAndGlyphs" font-weight="bold" transform="rotate(-90 14.6 113.3)">Expression / control</text>
<text x="389.7" y="131.5" font-size="8.3" text-anchor="start" fill="#bb2452" stroke="#bb2452" stroke-width="0.05" textLength="12.5" lengthAdjust="spacingAndGlyphs">n.d.</text>
<text x="485.7" y="151.5" font-size="8.3" text-anchor="start" fill="#000" stroke="#000" stroke-width="0.16" textLength="24.2" lengthAdjust="spacingAndGlyphs">shRNA</text>
<line x1="37.20" y1="173.65" x2="50.10" y2="173.65" stroke="#a5002f" stroke-width="2.3"/>
<text x="53.2" y="176.25" font-size="7.6" text-anchor="start" fill="#000" stroke="#000" stroke-width="0.16" textLength="41.4" lengthAdjust="spacingAndGlyphs">HOXA10-AS</text>
<line x1="37.20" y1="184.95" x2="50.10" y2="184.95" stroke="#2a477f" stroke-width="2.3"/>
<text x="53.2" y="187.55" font-size="7.6" text-anchor="start" fill="#000" stroke="#000" stroke-width="0.16" textLength="29.4" lengthAdjust="spacingAndGlyphs">HOXA10</text>
<line x1="37.20" y1="196.25" x2="50.10" y2="196.25" stroke="#b8bbd5" stroke-width="2.3"/>
<text x="53.2" y="198.85" font-size="7.6" text-anchor="start" fill="#000" stroke="#000" stroke-width="0.16" textLength="25.4" lengthAdjust="spacingAndGlyphs">HOXA9</text>
<line x1="37.20" y1="207.55" x2="50.10" y2="207.55" stroke="#7a84ae" stroke-width="2.3"/>
<text x="53.2" y="210.15" font-size="7.6" text-anchor="start" fill="#000" stroke="#000" stroke-width="0.16" textLength="32.3" lengthAdjust="spacingAndGlyphs">miR-196b</text>
<text x="122" y="179.7" font-size="12" text-anchor="start" fill="#000" stroke="#000" stroke-width="0.35" font-weight="bold">B</text>
<text x="203.5" y="188.2" font-size="10.2" text-anchor="middle" fill="#000" stroke="#000" stroke-width="0.1" textLength="42.6" lengthAdjust="spacingAndGlyphs">MOLM-13</text>
<line x1="151.50" y1="193.20" x2="151.50" y2="299.90" stroke="#111" stroke-width="1.3"/>
<line x1="148.30" y1="299.40" x2="151.50" y2="299.40" stroke="#111" stroke-width="1"/>
<line x1="149.70" y1="283.90" x2="151.50" y2="283.90" stroke="#111" stroke-width="0.9"/>
<line x1="149.70" y1="274.83" x2="151.50" y2="274.83" stroke="#111" stroke-width="0.9"/>
<line x1="149.70" y1="268.39" x2="151.50" y2="268.39" stroke="#111" stroke-width="0.9"/>
<line x1="149.70" y1="263.40" x2="151.50" y2="263.40" stroke="#111" stroke-width="0.9"/>
<line x1="149.70" y1="259.33" x2="151.50" y2="259.33" stroke="#111" stroke-width="0.9"/>
<line x1="149.70" y1="255.88" x2="151.50" y2="255.88" stroke="#111" stroke-width="0.9"/>
<line x1="149.70" y1="252.89" x2="151.50" y2="252.89" stroke="#111" stroke-width="0.9"/>
<line x1="149.70" y1="250.26" x2="151.50" y2="250.26" stroke="#111" stroke-width="0.9"/>
<line x1="148.30" y1="247.90" x2="151.50" y2="247.90" stroke="#111" stroke-width="1"/>
<line x1="149.70" y1="232.40" x2="151.50" y2="232.40" stroke="#111" stroke-width="0.9"/>
<line x1="149.70" y1="223.33" x2="151.50" y2="223.33" stroke="#111" stroke-width="0.9"/>
<line x1="149.70" y1="216.89" x2="151.50" y2="216.89" stroke="#111" stroke-width="0.9"/>
<line x1="149.70" y1="211.90" x2="151.50" y2="211.90" stroke="#111" stroke-width="0.9"/>
<line x1="149.70" y1="207.83" x2="151.50" y2="207.83" stroke="#111" stroke-width="0.9"/>
<line x1="149.70" y1="204.38" x2="151.50" y2="204.38" stroke="#111" stroke-width="0.9"/>
<line x1="149.70" y1="201.39" x2="151.50" y2="201.39" stroke="#111" stroke-width="0.9"/>
<line x1="149.70" y1="198.76" x2="151.50" y2="198.76" stroke="#111" stroke-width="0.9"/>
<line x1="148.30" y1="196.40" x2="151.50" y2="196.40" stroke="#111" stroke-width="1"/>
<line x1="148.30" y1="247.90" x2="255.10" y2="247.90" stroke="#333" stroke-width="1" stroke-dasharray="1,1.1"/>
<rect x="157.00" y="233.80" width="4.90" height="65.60" fill="#2a477f"/>
<line x1="159.45" y1="222.70" x2="159.45" y2="233.80" stroke="#222" stroke-width="1"/>
<line x1="157.85" y1="222.70" x2="161.05" y2="222.70" stroke="#222" stroke-width="1.1"/>
<line x1="159.45" y1="299.40" x2="159.45" y2="302.70" stroke="#111" stroke-width="1"/>
<rect x="164.33" y="238.40" width="4.90" height="61.00" fill="#2a477f"/>
<line x1="166.78" y1="232.40" x2="166.78" y2="238.40" stroke="#222" stroke-width="1"/>
<line x1="165.18" y1="232.40" x2="168.38" y2="232.40" stroke="#222" stroke-width="1.1"/>
<line x1="166.78" y1="299.40" x2="166.78" y2="302.70" stroke="#111" stroke-width="1"/>
<rect x="171.66" y="232.20" width="4.90" height="67.20" fill="#2a477f"/>
<line x1="174.11" y1="299.40" x2="174.11" y2="302.70" stroke="#111" stroke-width="1"/>
<rect x="178.99" y="238.90" width="4.90" height="60.50" fill="#2a477f"/>
<line x1="181.44" y1="228.00" x2="181.44" y2="238.90" stroke="#222" stroke-width="1"/>
<line x1="179.84" y1="228.00" x2="183.04" y2="228.00" stroke="#222" stroke-width="1.1"/>
<line x1="181.44" y1="299.40" x2="181.44" y2="302.70" stroke="#111" stroke-width="1"/>
<rect x="189.45" y="240.00" width="4.90" height="59.40" fill="#b8bbd5"/>
<line x1="191.90" y1="231.50" x2="191.90" y2="240.00" stroke="#222" stroke-width="1"/>
<line x1="190.30" y1="231.50" x2="193.50" y2="231.50" stroke="#222" stroke-width="1.1"/>
<line x1="191.90" y1="299.40" x2="191.90" y2="302.70" stroke="#111" stroke-width="1"/>
<rect x="196.78" y="231.20" width="4.90" height="68.20" fill="#b8bbd5"/>
<line x1="199.23" y1="225.00" x2="199.23" y2="231.20" stroke="#222" stroke-width="1"/>
<line x1="197.63" y1="225.00" x2="200.83" y2="225.00" stroke="#222" stroke-width="1.1"/>
<line x1="199.23" y1="299.40" x2="199.23" y2="302.70" stroke="#111" stroke-width="1"/>
<rect x="204.11" y="243.50" width="4.90" height="55.90" fill="#b8bbd5"/>
<line x1="206.56" y1="299.40" x2="206.56" y2="302.70" stroke="#111" stroke-width="1"/>
<rect x="211.44" y="242.30" width="4.90" height="57.10" fill="#b8bbd5"/>
<line x1="213.89" y1="233.10" x2="213.89" y2="242.30" stroke="#222" stroke-width="1"/>
<line x1="212.29" y1="233.10" x2="215.49" y2="233.10" stroke="#222" stroke-width="1.1"/>
<line x1="213.89" y1="299.40" x2="213.89" y2="302.70" stroke="#111" stroke-width="1"/>
<rect x="221.90" y="247.60" width="4.90" height="51.80" fill="#7a84ae"/>
<line x1="224.35" y1="242.30" x2="224.35" y2="247.60" stroke="#222" stroke-width="1"/>
<line x1="222.75" y1="242.30" x2="225.95" y2="242.30" stroke="#222" stroke-width="1.1"/>
<line x1="224.35" y1="299.40" x2="224.35" y2="302.70" stroke="#111" stroke-width="1"/>
<rect x="229.23" y="255.00" width="4.90" height="44.40" fill="#7a84ae"/>
<line x1="231.68" y1="253.90" x2="231.68" y2="255.00" stroke="#222" stroke-width="1"/>
<line x1="230.08" y1="253.90" x2="233.28" y2="253.90" stroke="#222" stroke-width="1.1"/>
<line x1="231.68" y1="299.40" x2="231.68" y2="302.70" stroke="#111" stroke-width="1"/>
<rect x="236.56" y="260.80" width="4.90" height="38.60" fill="#7a84ae"/>
<line x1="239.01" y1="258.50" x2="239.01" y2="260.80" stroke="#222" stroke-width="1"/>
<line x1="237.41" y1="258.50" x2="240.61" y2="258.50" stroke="#222" stroke-width="1.1"/>
<line x1="239.01" y1="299.40" x2="239.01" y2="302.70" stroke="#111" stroke-width="1"/>
<rect x="243.89" y="262.70" width="4.90" height="36.70" fill="#7a84ae"/>
<line x1="246.34" y1="262.00" x2="246.34" y2="262.70" stroke="#222" stroke-width="1"/>
<line x1="244.74" y1="262.00" x2="247.94" y2="262.00" stroke="#222" stroke-width="1.1"/>
<line x1="246.34" y1="299.40" x2="246.34" y2="302.70" stroke="#111" stroke-width="1"/>
<line x1="148.30" y1="299.40" x2="255.10" y2="299.40" stroke="#111" stroke-width="1.2"/>
<text x="161.35" y="314.40" font-size="6.8" fill="#111" stroke="#111" stroke-width="0.12" transform="rotate(-90 161.35 314.40)">#</text>
<text x="161.35" y="309.40" font-size="7.2" fill="#111" stroke="#111" stroke-width="0.25" transform="rotate(-90 161.35 309.40)">1</text>
<text x="168.68" y="314.40" font-size="6.8" fill="#111" stroke="#111" stroke-width="0.12" transform="rotate(-90 168.68 314.40)">#</text>
<text x="168.68" y="309.40" font-size="7.2" fill="#111" stroke="#111" stroke-width="0.25" transform="rotate(-90 168.68 309.40)">2</text>
<text x="176.01" y="314.40" font-size="6.8" fill="#111" stroke="#111" stroke-width="0.12" transform="rotate(-90 176.01 314.40)">#</text>
<text x="176.01" y="309.40" font-size="7.2" fill="#111" stroke="#111" stroke-width="0.25" transform="rotate(-90 176.01 309.40)">3</text>
<text x="183.34" y="314.40" font-size="6.8" fill="#111" stroke="#111" stroke-width="0.12" transform="rotate(-90 183.34 314.40)">#</text>
<text x="183.34" y="309.40" font-size="7.2" fill="#111" stroke="#111" stroke-width="0.25" transform="rotate(-90 183.34 309.40)">4</text>
<text x="193.80" y="314.40" font-size="6.8" fill="#111" stroke="#111" stroke-width="0.12" transform="rotate(-90 193.80 314.40)">#</text>
<text x="193.80" y="309.40" font-size="7.2" fill="#111" stroke="#111" stroke-width="0.25" transform="rotate(-90 193.80 309.40)">1</text>
<text x="201.13" y="314.40" font-size="6.8" fill="#111" stroke="#111" stroke-width="0.12" transform="rotate(-90 201.13 314.40)">#</text>
<text x="201.13" y="309.40" font-size="7.2" fill="#111" stroke="#111" stroke-width="0.25" transform="rotate(-90 201.13 309.40)">2</text>
<text x="208.46" y="314.40" font-size="6.8" fill="#111" stroke="#111" stroke-width="0.12" transform="rotate(-90 208.46 314.40)">#</text>
<text x="208.46" y="309.40" font-size="7.2" fill="#111" stroke="#111" stroke-width="0.25" transform="rotate(-90 208.46 309.40)">3</text>
<text x="215.79" y="314.40" font-size="6.8" fill="#111" stroke="#111" stroke-width="0.12" transform="rotate(-90 215.79 314.40)">#</text>
<text x="215.79" y="309.40" font-size="7.2" fill="#111" stroke="#111" stroke-width="0.25" transform="rotate(-90 215.79 309.40)">4</text>
<text x="226.25" y="314.40" font-size="6.8" fill="#111" stroke="#111" stroke-width="0.12" transform="rotate(-90 226.25 314.40)">#</text>
<text x="226.25" y="309.40" font-size="7.2" fill="#111" stroke="#111" stroke-width="0.25" transform="rotate(-90 226.25 309.40)">1</text>
<text x="233.58" y="314.40" font-size="6.8" fill="#111" stroke="#111" stroke-width="0.12" transform="rotate(-90 233.58 314.40)">#</text>
<text x="233.58" y="309.40" font-size="7.2" fill="#111" stroke="#111" stroke-width="0.25" transform="rotate(-90 233.58 309.40)">2</text>
<text x="240.91" y="314.40" font-size="6.8" fill="#111" stroke="#111" stroke-width="0.12" transform="rotate(-90 240.91 314.40)">#</text>
<text x="240.91" y="309.40" font-size="7.2" fill="#111" stroke="#111" stroke-width="0.25" transform="rotate(-90 240.91 309.40)">3</text>
<text x="248.24" y="314.40" font-size="6.8" fill="#111" stroke="#111" stroke-width="0.12" transform="rotate(-90 248.24 314.40)">#</text>
<text x="248.24" y="309.40" font-size="7.2" fill="#111" stroke="#111" stroke-width="0.25" transform="rotate(-90 248.24 309.40)">4</text>
<text x="317.5" y="188.2" font-size="10.2" text-anchor="middle" fill="#000" stroke="#000" stroke-width="0.1" textLength="31.6" lengthAdjust="spacingAndGlyphs">MV4-11</text>
<line x1="266.30" y1="193.20" x2="266.30" y2="299.90" stroke="#111" stroke-width="1.3"/>
<line x1="263.10" y1="299.40" x2="266.30" y2="299.40" stroke="#111" stroke-width="1"/>
<line x1="264.50" y1="283.90" x2="266.30" y2="283.90" stroke="#111" stroke-width="0.9"/>
<line x1="264.50" y1="274.83" x2="266.30" y2="274.83" stroke="#111" stroke-width="0.9"/>
<line x1="264.50" y1="268.39" x2="266.30" y2="268.39" stroke="#111" stroke-width="0.9"/>
<line x1="264.50" y1="263.40" x2="266.30" y2="263.40" stroke="#111" stroke-width="0.9"/>
<line x1="264.50" y1="259.33" x2="266.30" y2="259.33" stroke="#111" stroke-width="0.9"/>
<line x1="264.50" y1="255.88" x2="266.30" y2="255.88" stroke="#111" stroke-width="0.9"/>
<line x1="264.50" y1="252.89" x2="266.30" y2="252.89" stroke="#111" stroke-width="0.9"/>
<line x1="264.50" y1="250.26" x2="266.30" y2="250.26" stroke="#111" stroke-width="0.9"/>
<line x1="263.10" y1="247.90" x2="266.30" y2="247.90" stroke="#111" stroke-width="1"/>
<line x1="264.50" y1="232.40" x2="266.30" y2="232.40" stroke="#111" stroke-width="0.9"/>
<line x1="264.50" y1="223.33" x2="266.30" y2="223.33" stroke="#111" stroke-width="0.9"/>
<line x1="264.50" y1="216.89" x2="266.30" y2="216.89" stroke="#111" stroke-width="0.9"/>
<line x1="264.50" y1="211.90" x2="266.30" y2="211.90" stroke="#111" stroke-width="0.9"/>
<line x1="264.50" y1="207.83" x2="266.30" y2="207.83" stroke="#111" stroke-width="0.9"/>
<line x1="264.50" y1="204.38" x2="266.30" y2="204.38" stroke="#111" stroke-width="0.9"/>
<line x1="264.50" y1="201.39" x2="266.30" y2="201.39" stroke="#111" stroke-width="0.9"/>
<line x1="264.50" y1="198.76" x2="266.30" y2="198.76" stroke="#111" stroke-width="0.9"/>
<line x1="263.10" y1="196.40" x2="266.30" y2="196.40" stroke="#111" stroke-width="1"/>
<line x1="263.10" y1="247.90" x2="369.90" y2="247.90" stroke="#333" stroke-width="1" stroke-dasharray="1,1.1"/>
<rect x="271.80" y="246.90" width="4.90" height="52.50" fill="#2a477f"/>
<line x1="274.25" y1="243.00" x2="274.25" y2="246.90" stroke="#222" stroke-width="1"/>
<line x1="272.65" y1="243.00" x2="275.85" y2="243.00" stroke="#222" stroke-width="1.1"/>
<line x1="274.25" y1="299.40" x2="274.25" y2="302.70" stroke="#111" stroke-width="1"/>
<rect x="279.13" y="241.60" width="4.90" height="57.80" fill="#2a477f"/>
<line x1="281.58" y1="237.70" x2="281.58" y2="241.60" stroke="#222" stroke-width="1"/>
<line x1="279.98" y1="237.70" x2="283.18" y2="237.70" stroke="#222" stroke-width="1.1"/>
<line x1="281.58" y1="299.40" x2="281.58" y2="302.70" stroke="#111" stroke-width="1"/>
<rect x="286.46" y="243.90" width="4.90" height="55.50" fill="#2a477f"/>
<line x1="288.91" y1="238.90" x2="288.91" y2="243.90" stroke="#222" stroke-width="1"/>
<line x1="287.31" y1="238.90" x2="290.51" y2="238.90" stroke="#222" stroke-width="1.1"/>
<line x1="288.91" y1="299.40" x2="288.91" y2="302.70" stroke="#111" stroke-width="1"/>
<rect x="293.79" y="254.60" width="4.90" height="44.80" fill="#2a477f"/>
<line x1="296.24" y1="248.10" x2="296.24" y2="254.60" stroke="#222" stroke-width="1"/>
<line x1="294.64" y1="248.10" x2="297.84" y2="248.10" stroke="#222" stroke-width="1.1"/>
<line x1="296.24" y1="299.40" x2="296.24" y2="302.70" stroke="#111" stroke-width="1"/>
<rect x="304.25" y="248.10" width="4.90" height="51.30" fill="#b8bbd5"/>
<line x1="306.70" y1="246.50" x2="306.70" y2="248.10" stroke="#222" stroke-width="1"/>
<line x1="305.10" y1="246.50" x2="308.30" y2="246.50" stroke="#222" stroke-width="1.1"/>
<line x1="306.70" y1="299.40" x2="306.70" y2="302.70" stroke="#111" stroke-width="1"/>
<rect x="311.58" y="247.40" width="4.90" height="52.00" fill="#b8bbd5"/>
<line x1="314.03" y1="241.60" x2="314.03" y2="247.40" stroke="#222" stroke-width="1"/>
<line x1="312.43" y1="241.60" x2="315.63" y2="241.60" stroke="#222" stroke-width="1.1"/>
<line x1="314.03" y1="299.40" x2="314.03" y2="302.70" stroke="#111" stroke-width="1"/>
<rect x="318.91" y="251.10" width="4.90" height="48.30" fill="#b8bbd5"/>
<line x1="321.36" y1="299.40" x2="321.36" y2="302.70" stroke="#111" stroke-width="1"/>
<rect x="326.24" y="246.90" width="4.90" height="52.50" fill="#b8bbd5"/>
<line x1="328.69" y1="243.50" x2="328.69" y2="246.90" stroke="#222" stroke-width="1"/>
<line x1="327.09" y1="243.50" x2="330.29" y2="243.50" stroke="#222" stroke-width="1.1"/>
<line x1="328.69" y1="299.40" x2="328.69" y2="302.70" stroke="#111" stroke-width="1"/>
<rect x="336.70" y="277.70" width="4.90" height="21.70" fill="#7a84ae"/>
<line x1="339.15" y1="275.30" x2="339.15" y2="277.70" stroke="#222" stroke-width="1"/>
<line x1="337.55" y1="275.30" x2="340.75" y2="275.30" stroke="#222" stroke-width="1.1"/>
<line x1="339.15" y1="299.40" x2="339.15" y2="302.70" stroke="#111" stroke-width="1"/>
<rect x="344.03" y="282.30" width="4.90" height="17.10" fill="#7a84ae"/>
<line x1="346.48" y1="279.30" x2="346.48" y2="282.30" stroke="#222" stroke-width="1"/>
<line x1="344.88" y1="279.30" x2="348.08" y2="279.30" stroke="#222" stroke-width="1.1"/>
<line x1="346.48" y1="299.40" x2="346.48" y2="302.70" stroke="#111" stroke-width="1"/>
<rect x="351.36" y="290.80" width="4.90" height="8.60" fill="#7a84ae"/>
<line x1="353.81" y1="286.20" x2="353.81" y2="290.80" stroke="#222" stroke-width="1"/>
<line x1="352.21" y1="286.20" x2="355.41" y2="286.20" stroke="#222" stroke-width="1.1"/>
<line x1="353.81" y1="299.40" x2="353.81" y2="302.70" stroke="#111" stroke-width="1"/>
<rect x="358.69" y="287.40" width="4.90" height="12.00" fill="#7a84ae"/>
<line x1="361.14" y1="282.30" x2="361.14" y2="287.40" stroke="#222" stroke-width="1"/>
<line x1="359.54" y1="282.30" x2="362.74" y2="282.30" stroke="#222" stroke-width="1.1"/>
<line x1="361.14" y1="299.40" x2="361.14" y2="302.70" stroke="#111" stroke-width="1"/>
<line x1="263.10" y1="299.40" x2="369.90" y2="299.40" stroke="#111" stroke-width="1.2"/>
<text x="276.15" y="314.40" font-size="6.8" fill="#111" stroke="#111" stroke-width="0.12" transform="rotate(-90 276.15 314.40)">#</text>
<text x="276.15" y="309.40" font-size="7.2" fill="#111" stroke="#111" stroke-width="0.25" transform="rotate(-90 276.15 309.40)">1</text>
<text x="283.48" y="314.40" font-size="6.8" fill="#111" stroke="#111" stroke-width="0.12" transform="rotate(-90 283.48 314.40)">#</text>
<text x="283.48" y="309.40" font-size="7.2" fill="#111" stroke="#111" stroke-width="0.25" transform="rotate(-90 283.48 309.40)">2</text>
<text x="290.81" y="314.40" font-size="6.8" fill="#111" stroke="#111" stroke-width="0.12" transform="rotate(-90 290.81 314.40)">#</text>
<text x="290.81" y="309.40" font-size="7.2" fill="#111" stroke="#111" stroke-width="0.25" transform="rotate(-90 290.81 309.40)">3</text>
<text x="298.14" y="314.40" font-size="6.8" fill="#111" stroke="#111" stroke-width="0.12" transform="rotate(-90 298.14 314.40)">#</text>
<text x="298.14" y="309.40" font-size="7.2" fill="#111" stroke="#111" stroke-width="0.25" transform="rotate(-90 298.14 309.40)">4</text>
<text x="308.60" y="314.40" font-size="6.8" fill="#111" stroke="#111" stroke-width="0.12" transform="rotate(-90 308.60 314.40)">#</text>
<text x="308.60" y="309.40" font-size="7.2" fill="#111" stroke="#111" stroke-width="0.25" transform="rotate(-90 308.60 309.40)">1</text>
<text x="315.93" y="314.40" font-size="6.8" fill="#111" stroke="#111" stroke-width="0.12" transform="rotate(-90 315.93 314.40)">#</text>
<text x="315.93" y="309.40" font-size="7.2" fill="#111" stroke="#111" stroke-width="0.25" transform="rotate(-90 315.93 309.40)">2</text>
<text x="323.26" y="314.40" font-size="6.8" fill="#111" stroke="#111" stroke-width="0.12" transform="rotate(-90 323.26 314.40)">#</text>
<text x="323.26" y="309.40" font-size="7.2" fill="#111" stroke="#111" stroke-width="0.25" transform="rotate(-90 323.26 309.40)">3</text>
<text x="330.59" y="314.40" font-size="6.8" fill="#111" stroke="#111" stroke-width="0.12" transform="rotate(-90 330.59 314.40)">#</text>
<text x="330.59" y="309.40" font-size="7.2" fill="#111" stroke="#111" stroke-width="0.25" transform="rotate(-90 330.59 309.40)">4</text>
<text x="341.05" y="314.40" font-size="6.8" fill="#111" stroke="#111" stroke-width="0.12" transform="rotate(-90 341.05 314.40)">#</text>
<text x="341.05" y="309.40" font-size="7.2" fill="#111" stroke="#111" stroke-width="0.25" transform="rotate(-90 341.05 309.40)">1</text>
<text x="348.38" y="314.40" font-size="6.8" fill="#111" stroke="#111" stroke-width="0.12" transform="rotate(-90 348.38 314.40)">#</text>
<text x="348.38" y="309.40" font-size="7.2" fill="#111" stroke="#111" stroke-width="0.25" transform="rotate(-90 348.38 309.40)">2</text>
<text x="355.71" y="314.40" font-size="6.8" fill="#111" stroke="#111" stroke-width="0.12" transform="rotate(-90 355.71 314.40)">#</text>
<text x="355.71" y="309.40" font-size="7.2" fill="#111" stroke="#111" stroke-width="0.25" transform="rotate(-90 355.71 309.40)">3</text>
<text x="363.04" y="314.40" font-size="6.8" fill="#111" stroke="#111" stroke-width="0.12" transform="rotate(-90 363.04 314.40)">#</text>
<text x="363.04" y="309.40" font-size="7.2" fill="#111" stroke="#111" stroke-width="0.25" transform="rotate(-90 363.04 309.40)">4</text>
<text x="433.9" y="188.2" font-size="10.2" text-anchor="middle" fill="#000" stroke="#000" stroke-width="0.1" textLength="21.5" lengthAdjust="spacingAndGlyphs">NB-4</text>
<line x1="381.80" y1="193.20" x2="381.80" y2="299.90" stroke="#111" stroke-width="1.3"/>
<line x1="378.60" y1="299.40" x2="381.80" y2="299.40" stroke="#111" stroke-width="1"/>
<line x1="380.00" y1="283.90" x2="381.80" y2="283.90" stroke="#111" stroke-width="0.9"/>
<line x1="380.00" y1="274.83" x2="381.80" y2="274.83" stroke="#111" stroke-width="0.9"/>
<line x1="380.00" y1="268.39" x2="381.80" y2="268.39" stroke="#111" stroke-width="0.9"/>
<line x1="380.00" y1="263.40" x2="381.80" y2="263.40" stroke="#111" stroke-width="0.9"/>
<line x1="380.00" y1="259.33" x2="381.80" y2="259.33" stroke="#111" stroke-width="0.9"/>
<line x1="380.00" y1="255.88" x2="381.80" y2="255.88" stroke="#111" stroke-width="0.9"/>
<line x1="380.00" y1="252.89" x2="381.80" y2="252.89" stroke="#111" stroke-width="0.9"/>
<line x1="380.00" y1="250.26" x2="381.80" y2="250.26" stroke="#111" stroke-width="0.9"/>
<line x1="378.60" y1="247.90" x2="381.80" y2="247.90" stroke="#111" stroke-width="1"/>
<line x1="380.00" y1="232.40" x2="381.80" y2="232.40" stroke="#111" stroke-width="0.9"/>
<line x1="380.00" y1="223.33" x2="381.80" y2="223.33" stroke="#111" stroke-width="0.9"/>
<line x1="380.00" y1="216.89" x2="381.80" y2="216.89" stroke="#111" stroke-width="0.9"/>
<line x1="380.00" y1="211.90" x2="381.80" y2="211.90" stroke="#111" stroke-width="0.9"/>
<line x1="380.00" y1="207.83" x2="381.80" y2="207.83" stroke="#111" stroke-width="0.9"/>
<line x1="380.00" y1="204.38" x2="381.80" y2="204.38" stroke="#111" stroke-width="0.9"/>
<line x1="380.00" y1="201.39" x2="381.80" y2="201.39" stroke="#111" stroke-width="0.9"/>
<line x1="380.00" y1="198.76" x2="381.80" y2="198.76" stroke="#111" stroke-width="0.9"/>
<line x1="378.60" y1="196.40" x2="381.80" y2="196.40" stroke="#111" stroke-width="1"/>
<line x1="378.60" y1="247.90" x2="485.70" y2="247.90" stroke="#333" stroke-width="1" stroke-dasharray="1,1.1"/>
<rect x="384.10" y="243.00" width="5.80" height="56.40" fill="#2a477f"/>
<line x1="387.00" y1="238.90" x2="387.00" y2="243.00" stroke="#222" stroke-width="1"/>
<line x1="385.40" y1="238.90" x2="388.60" y2="238.90" stroke="#222" stroke-width="1.1"/>
<line x1="387.00" y1="299.40" x2="387.00" y2="302.70" stroke="#111" stroke-width="1"/>
<rect x="392.10" y="248.10" width="5.80" height="51.30" fill="#2a477f"/>
<line x1="395.00" y1="243.50" x2="395.00" y2="248.10" stroke="#222" stroke-width="1"/>
<line x1="393.40" y1="243.50" x2="396.60" y2="243.50" stroke="#222" stroke-width="1.1"/>
<line x1="395.00" y1="299.40" x2="395.00" y2="302.70" stroke="#111" stroke-width="1"/>
<rect x="400.10" y="251.10" width="5.80" height="48.30" fill="#2a477f"/>
<line x1="403.00" y1="249.30" x2="403.00" y2="251.10" stroke="#222" stroke-width="1"/>
<line x1="401.40" y1="249.30" x2="404.60" y2="249.30" stroke="#222" stroke-width="1.1"/>
<line x1="403.00" y1="299.40" x2="403.00" y2="302.70" stroke="#111" stroke-width="1"/>
<rect x="408.10" y="253.90" width="5.80" height="45.50" fill="#2a477f"/>
<line x1="411.00" y1="244.60" x2="411.00" y2="253.90" stroke="#222" stroke-width="1"/>
<line x1="409.40" y1="244.60" x2="412.60" y2="244.60" stroke="#222" stroke-width="1.1"/>
<line x1="411.00" y1="299.40" x2="411.00" y2="302.70" stroke="#111" stroke-width="1"/>
<rect x="419.25" y="224.30" width="5.80" height="75.10" fill="#b8bbd5"/>
<line x1="422.15" y1="217.40" x2="422.15" y2="224.30" stroke="#222" stroke-width="1"/>
<line x1="420.55" y1="217.40" x2="423.75" y2="217.40" stroke="#222" stroke-width="1.1"/>
<line x1="422.15" y1="299.40" x2="422.15" y2="302.70" stroke="#111" stroke-width="1"/>
<rect x="427.25" y="241.20" width="5.80" height="58.20" fill="#b8bbd5"/>
<line x1="430.15" y1="228.00" x2="430.15" y2="241.20" stroke="#222" stroke-width="1"/>
<line x1="428.55" y1="228.00" x2="431.75" y2="228.00" stroke="#222" stroke-width="1.1"/>
<line x1="430.15" y1="299.40" x2="430.15" y2="302.70" stroke="#111" stroke-width="1"/>
<rect x="435.25" y="237.70" width="5.80" height="61.70" fill="#b8bbd5"/>
<line x1="438.15" y1="227.30" x2="438.15" y2="237.70" stroke="#222" stroke-width="1"/>
<line x1="436.55" y1="227.30" x2="439.75" y2="227.30" stroke="#222" stroke-width="1.1"/>
<line x1="438.15" y1="299.40" x2="438.15" y2="302.70" stroke="#111" stroke-width="1"/>
<rect x="443.25" y="253.40" width="5.80" height="46.00" fill="#b8bbd5"/>
<line x1="446.15" y1="247.00" x2="446.15" y2="253.40" stroke="#222" stroke-width="1"/>
<line x1="444.55" y1="247.00" x2="447.75" y2="247.00" stroke="#222" stroke-width="1.1"/>
<line x1="446.15" y1="299.40" x2="446.15" y2="302.70" stroke="#111" stroke-width="1"/>
<rect x="454.40" y="252.70" width="5.80" height="46.70" fill="#7a84ae"/>
<line x1="457.30" y1="251.10" x2="457.30" y2="252.70" stroke="#222" stroke-width="1"/>
<line x1="455.70" y1="251.10" x2="458.90" y2="251.10" stroke="#222" stroke-width="1.1"/>
<line x1="457.30" y1="299.40" x2="457.30" y2="302.70" stroke="#111" stroke-width="1"/>
<rect x="462.40" y="247.00" width="5.80" height="52.40" fill="#7a84ae"/>
<line x1="465.30" y1="243.00" x2="465.30" y2="247.00" stroke="#222" stroke-width="1"/>
<line x1="463.70" y1="243.00" x2="466.90" y2="243.00" stroke="#222" stroke-width="1.1"/>
<line x1="465.30" y1="299.40" x2="465.30" y2="302.70" stroke="#111" stroke-width="1"/>
<rect x="470.40" y="252.30" width="5.80" height="47.10" fill="#7a84ae"/>
<line x1="473.30" y1="250.40" x2="473.30" y2="252.30" stroke="#222" stroke-width="1"/>
<line x1="471.70" y1="250.40" x2="474.90" y2="250.40" stroke="#222" stroke-width="1.1"/>
<line x1="473.30" y1="299.40" x2="473.30" y2="302.70" stroke="#111" stroke-width="1"/>
<rect x="478.40" y="251.60" width="5.80" height="47.80" fill="#7a84ae"/>
<line x1="481.30" y1="248.10" x2="481.30" y2="251.60" stroke="#222" stroke-width="1"/>
<line x1="479.70" y1="248.10" x2="482.90" y2="248.10" stroke="#222" stroke-width="1.1"/>
<line x1="481.30" y1="299.40" x2="481.30" y2="302.70" stroke="#111" stroke-width="1"/>
<line x1="378.60" y1="299.40" x2="485.70" y2="299.40" stroke="#111" stroke-width="1.2"/>
<text x="388.90" y="314.40" font-size="6.8" fill="#111" stroke="#111" stroke-width="0.12" transform="rotate(-90 388.90 314.40)">#</text>
<text x="388.90" y="309.40" font-size="7.2" fill="#111" stroke="#111" stroke-width="0.25" transform="rotate(-90 388.90 309.40)">1</text>
<text x="396.90" y="314.40" font-size="6.8" fill="#111" stroke="#111" stroke-width="0.12" transform="rotate(-90 396.90 314.40)">#</text>
<text x="396.90" y="309.40" font-size="7.2" fill="#111" stroke="#111" stroke-width="0.25" transform="rotate(-90 396.90 309.40)">2</text>
<text x="404.90" y="314.40" font-size="6.8" fill="#111" stroke="#111" stroke-width="0.12" transform="rotate(-90 404.90 314.40)">#</text>
<text x="404.90" y="309.40" font-size="7.2" fill="#111" stroke="#111" stroke-width="0.25" transform="rotate(-90 404.90 309.40)">3</text>
<text x="412.90" y="314.40" font-size="6.8" fill="#111" stroke="#111" stroke-width="0.12" transform="rotate(-90 412.90 314.40)">#</text>
<text x="412.90" y="309.40" font-size="7.2" fill="#111" stroke="#111" stroke-width="0.25" transform="rotate(-90 412.90 309.40)">4</text>
<text x="424.05" y="314.40" font-size="6.8" fill="#111" stroke="#111" stroke-width="0.12" transform="rotate(-90 424.05 314.40)">#</text>
<text x="424.05" y="309.40" font-size="7.2" fill="#111" stroke="#111" stroke-width="0.25" transform="rotate(-90 424.05 309.40)">1</text>
<text x="432.05" y="314.40" font-size="6.8" fill="#111" stroke="#111" stroke-width="0.12" transform="rotate(-90 432.05 314.40)">#</text>
<text x="432.05" y="309.40" font-size="7.2" fill="#111" stroke="#111" stroke-width="0.25" transform="rotate(-90 432.05 309.40)">2</text>
<text x="440.05" y="314.40" font-size="6.8" fill="#111" stroke="#111" stroke-width="0.12" transform="rotate(-90 440.05 314.40)">#</text>
<text x="440.05" y="309.40" font-size="7.2" fill="#111" stroke="#111" stroke-width="0.25" transform="rotate(-90 440.05 309.40)">3</text>
<text x="448.05" y="314.40" font-size="6.8" fill="#111" stroke="#111" stroke-width="0.12" transform="rotate(-90 448.05 314.40)">#</text>
<text x="448.05" y="309.40" font-size="7.2" fill="#111" stroke="#111" stroke-width="0.25" transform="rotate(-90 448.05 309.40)">4</text>
<text x="459.20" y="314.40" font-size="6.8" fill="#111" stroke="#111" stroke-width="0.12" transform="rotate(-90 459.20 314.40)">#</text>
<text x="459.20" y="309.40" font-size="7.2" fill="#111" stroke="#111" stroke-width="0.25" transform="rotate(-90 459.20 309.40)">1</text>
<text x="467.20" y="314.40" font-size="6.8" fill="#111" stroke="#111" stroke-width="0.12" transform="rotate(-90 467.20 314.40)">#</text>
<text x="467.20" y="309.40" font-size="7.2" fill="#111" stroke="#111" stroke-width="0.25" transform="rotate(-90 467.20 309.40)">2</text>
<text x="475.20" y="314.40" font-size="6.8" fill="#111" stroke="#111" stroke-width="0.12" transform="rotate(-90 475.20 314.40)">#</text>
<text x="475.20" y="309.40" font-size="7.2" fill="#111" stroke="#111" stroke-width="0.25" transform="rotate(-90 475.20 309.40)">3</text>
<text x="483.20" y="314.40" font-size="6.8" fill="#111" stroke="#111" stroke-width="0.12" transform="rotate(-90 483.20 314.40)">#</text>
<text x="483.20" y="309.40" font-size="7.2" fill="#111" stroke="#111" stroke-width="0.25" transform="rotate(-90 483.20 309.40)">4</text>
<text x="145.6" y="199.2" font-size="8.2" text-anchor="end" fill="#000" stroke="#000" stroke-width="0.16" textLength="8.8" lengthAdjust="spacingAndGlyphs">10</text>
<text x="145.6" y="250.7" font-size="8.2" text-anchor="end" fill="#000" stroke="#000" stroke-width="0.16">1</text>
<text x="145.6" y="302.3" font-size="8.2" text-anchor="end" fill="#000" stroke="#000" stroke-width="0.16" textLength="10.2" lengthAdjust="spacingAndGlyphs">0.1</text>
<text x="130.8" y="276" font-size="9.0" text-anchor="start" fill="#000" textLength="59.5" lengthAdjust="spacingAndGlyphs" font-weight="bold" transform="rotate(-90 130.8 276)">Expression / control</text>
<text x="488.2" y="312.9" font-size="8.3" text-anchor="start" fill="#000" stroke="#000" stroke-width="0.16" textLength="24.9" lengthAdjust="spacingAndGlyphs">sgRNA</text>
<text x="488.2" y="324.0" font-size="8.3" text-anchor="start" fill="#000" stroke="#000" stroke-width="0.16" textLength="12.8" lengthAdjust="spacingAndGlyphs">pair</text>
<text x="6.5" y="352.2" font-size="12" text-anchor="start" fill="#000" stroke="#000" stroke-width="0.35" font-weight="bold">C</text>
<rect x="34.90" y="354.00" width="13.90" height="3.50" fill="#2a477f"/>
<text x="51.8" y="358.05" font-size="7.4" text-anchor="start" fill="#000" stroke="#000" stroke-width="0.16" textLength="68.2" lengthAdjust="spacingAndGlyphs">chromatin-associated</text>
<rect x="34.90" y="365.20" width="13.90" height="3.50" fill="#a2a6cb"/>
<text x="51.8" y="369.25" font-size="7.4" text-anchor="start" fill="#000" stroke="#000" stroke-width="0.16" textLength="48" lengthAdjust="spacingAndGlyphs">nuclear soluble</text>
<rect x="34.90" y="376.40" width="13.90" height="3.50" fill="#a5002f"/>
<text x="51.8" y="380.45" font-size="7.4" text-anchor="start" fill="#000" stroke="#000" stroke-width="0.16" textLength="36.2" lengthAdjust="spacingAndGlyphs">cytoplasma</text>
<rect x="94.7" y="400.6" width="3.2" height="4.199999999999989" rx="0.9" fill="#a2a6cb" stroke="#5a6494" stroke-width="0.6"/>
<path d="M97.6,401.6 L99.4,401.6 M98.5,400.8 L98.5,402.4" stroke="#111" stroke-width="0.8"/>
<rect x="59.10" y="405.80" width="35.30" height="4.80" fill="#a5002f"/>
<rect x="94.40" y="413.70" width="35.30" height="5.40" fill="#2a477f"/>
<rect x="94.40" y="432.60" width="35.30" height="5.40" fill="#2a477f"/>
<rect x="94.7" y="438.9" width="3.2" height="4.300000000000011" rx="0.9" fill="#a2a6cb" stroke="#5a6494" stroke-width="0.6"/>
<path d="M97.6,440.2 L99.4,440.2 M98.5,439.4 L98.5,441" stroke="#111" stroke-width="0.8"/>
<rect x="83.40" y="443.60" width="11.00" height="5.40" fill="#a5002f"/>
<line x1="70.20" y1="446.30" x2="83.40" y2="446.30" stroke="#222" stroke-width="1"/>
<line x1="70.20" y1="444.30" x2="70.20" y2="448.30" stroke="#222" stroke-width="1"/>
<rect x="94.7" y="452.3" width="3.2" height="4.599999999999966" rx="0.9" fill="#2a477f" stroke="#5a6494" stroke-width="0.6"/>
<rect x="94.7" y="457.3" width="3.2" height="5.0" rx="0.9" fill="#a2a6cb" stroke="#5a6494" stroke-width="0.6"/>
<rect x="59.10" y="463.00" width="35.30" height="4.80" fill="#a5002f"/>
<line x1="94.40" y1="393.00" x2="94.40" y2="471.00" stroke="#111" stroke-width="1.2"/>
<line x1="55.80" y1="470.90" x2="130.40" y2="470.90" stroke="#111" stroke-width="1.1"/>
<line x1="59.10" y1="470.90" x2="59.10" y2="474.20" stroke="#111" stroke-width="1"/>
<line x1="76.75" y1="470.90" x2="76.75" y2="474.20" stroke="#111" stroke-width="1"/>
<line x1="94.40" y1="470.90" x2="94.40" y2="474.20" stroke="#111" stroke-width="1"/>
<line x1="112.05" y1="470.90" x2="112.05" y2="474.20" stroke="#111" stroke-width="1"/>
<line x1="129.70" y1="470.90" x2="129.70" y2="474.20" stroke="#111" stroke-width="1"/>
<text x="51.4" y="405.8" font-size="8.2" text-anchor="end" fill="#000" stroke="#000" stroke-width="0.16" textLength="16.7" lengthAdjust="spacingAndGlyphs">B2M</text>
<polyline points="57,395.8 54.7,395.8 54.7,410 57,410" fill="none" stroke="#111" stroke-width="1"/>
<text x="51.4" y="423" font-size="8.2" text-anchor="end" fill="#000" stroke="#000" stroke-width="0.16" textLength="20.9" lengthAdjust="spacingAndGlyphs">TERC</text>
<polyline points="57,413.4 54.7,413.4 54.7,427 57,427" fill="none" stroke="#111" stroke-width="1"/>
<text x="51.4" y="442.3" font-size="8.2" text-anchor="end" fill="#000" stroke="#000" stroke-width="0.16" textLength="16.7" lengthAdjust="spacingAndGlyphs">XIST</text>
<polyline points="57,433 54.7,433 54.7,446.7 57,446.7" fill="none" stroke="#111" stroke-width="1"/>
<text x="51.4" y="462.8" font-size="8.2" text-anchor="end" fill="#000" stroke="#000" stroke-width="0.16" textLength="44.5" lengthAdjust="spacingAndGlyphs">HOXA10-AS</text>
<polyline points="57,453.6 54.7,453.6 54.7,467.3 57,467.3" fill="none" stroke="#111" stroke-width="1"/>
<text x="49.6" y="484.3" font-size="7.6" text-anchor="start" fill="#000" stroke="#000" stroke-width="0.16" textLength="20" lengthAdjust="spacingAndGlyphs">1 (cyt)</text>
<text x="94.8" y="484.3" font-size="7.6" text-anchor="middle" fill="#000" stroke="#000" stroke-width="0.16">0</text>
<text x="119.3" y="484.3" font-size="7.6" text-anchor="start" fill="#000" stroke="#000" stroke-width="0.16" textLength="20.3" lengthAdjust="spacingAndGlyphs">1 (nuc)</text>
<text x="70.6" y="497.4" font-size="8.8" text-anchor="start" fill="#000" textLength="48.2" lengthAdjust="spacingAndGlyphs" font-weight="bold">Fraction of input</text>
<text x="157.8" y="351.8" font-size="12" text-anchor="start" fill="#000" stroke="#000" stroke-width="0.35" font-weight="bold">D</text>
<text x="236.5" y="370.6" font-size="6.6" text-anchor="middle" fill="#000" stroke="#000" stroke-width="0.08" textLength="92" lengthAdjust="spacingAndGlyphs">Enrichment plot: GGGNNTTTCC</text>
<text x="235.6" y="377.9" font-size="6.6" text-anchor="middle" fill="#000" stroke="#000" stroke-width="0.08" textLength="42.3" lengthAdjust="spacingAndGlyphs">_NFKB_Q6_01</text>
<rect x="189.60" y="425.60" width="1.80" height="13.40" fill="#111"/>
<rect x="191.40" y="425.60" width="0.90" height="13.40" fill="#555"/>
<rect x="194.30" y="425.60" width="3.30" height="13.40" fill="#a0a0a0"/>
<rect x="197.60" y="425.60" width="2.40" height="13.40" fill="#7a7a7a"/>
<rect x="200.00" y="425.60" width="1.50" height="13.40" fill="#e0e0e0"/>
<rect x="201.50" y="425.60" width="3.30" height="13.40" fill="#8c8c8c"/>
<rect x="204.80" y="425.60" width="2.00" height="13.40" fill="#555"/>
<rect x="208.70" y="425.60" width="1.90" height="13.40" fill="#444"/>
<rect x="210.60" y="425.60" width="3.80" height="13.40" fill="#6a6a6a"/>
<rect x="215.90" y="425.60" width="0.90" height="13.40" fill="#999"/>
<rect x="216.80" y="425.60" width="2.50" height="13.40" fill="#444"/>
<rect x="220.70" y="425.60" width="1.40" height="13.40" fill="#3a3a3a"/>
<rect x="222.10" y="425.60" width="1.90" height="13.40" fill="#c0c0c0"/>
<rect x="226.00" y="425.60" width="1.40" height="13.40" fill="#888"/>
<rect x="229.30" y="425.60" width="1.50" height="13.40" fill="#8a8a8a"/>
<rect x="230.80" y="425.60" width="2.40" height="13.40" fill="#cfcfcf"/>
<rect x="233.20" y="425.60" width="1.90" height="13.40" fill="#999"/>
<rect x="235.10" y="425.60" width="2.70" height="13.40" fill="#cccccc"/>
<rect x="238.80" y="425.60" width="1.90" height="13.40" fill="#444"/>
<rect x="240.70" y="425.60" width="2.40" height="13.40" fill="#777"/>
<rect x="243.10" y="425.60" width="3.40" height="13.40" fill="#bbb"/>
<rect x="246.50" y="425.60" width="1.90" height="13.40" fill="#555"/>
<rect x="248.40" y="425.60" width="2.90" height="13.40" fill="#999"/>
<rect x="251.30" y="425.60" width="3.40" height="13.40" fill="#ccc"/>
<rect x="256.60" y="425.60" width="1.90" height="13.40" fill="#999"/>
<rect x="258.50" y="425.60" width="1.90" height="13.40" fill="#555"/>
<rect x="260.40" y="425.60" width="1.50" height="13.40" fill="#aaa"/>
<rect x="261.90" y="425.60" width="0.90" height="13.40" fill="#444"/>
<rect x="262.80" y="425.60" width="2.50" height="13.40" fill="#ccc"/>
<rect x="265.30" y="425.60" width="1.90" height="13.40" fill="#888"/>
<rect x="267.20" y="425.60" width="1.90" height="13.40" fill="#c8c8c8"/>
<rect x="271.00" y="425.60" width="1.50" height="13.40" fill="#999"/>
<rect x="272.50" y="425.60" width="2.80" height="13.40" fill="#d0d0d0"/>
<rect x="275.30" y="425.60" width="1.50" height="13.40" fill="#999"/>
<rect x="276.80" y="425.60" width="1.80" height="13.40" fill="#ddd"/>
<rect x="189.60" y="439.20" width="13.40" height="3.60" fill="#f04a4a"/>
<rect x="203.00" y="439.20" width="17.50" height="3.60" fill="#f06464"/>
<rect x="220.50" y="439.20" width="10.70" height="3.60" fill="#f2b0dc"/>
<rect x="231.20" y="439.20" width="7.60" height="3.60" fill="#d4d4f8"/>
<rect x="238.80" y="439.20" width="12.50" height="3.60" fill="#c2c2f6"/>
<rect x="251.30" y="439.20" width="8.20" height="3.60" fill="#8080f0"/>
<rect x="259.50" y="439.20" width="14.40" height="3.60" fill="#5252ea"/>
<rect x="273.90" y="439.20" width="4.80" height="3.60" fill="#1010c8"/>
<text x="183.0" y="386.9" font-size="4.3" text-anchor="end" fill="#000" stroke="#000" stroke-width="0.06" textLength="8.4" lengthAdjust="spacingAndGlyphs">0.45</text>
<line x1="186.00" y1="385.40" x2="189.50" y2="385.40" stroke="#111" stroke-width="0.9"/>
<text x="183.0" y="390.9" font-size="4.3" text-anchor="end" fill="#000" stroke="#000" stroke-width="0.06" textLength="8.4" lengthAdjust="spacingAndGlyphs">0.40</text>
<line x1="186.00" y1="389.40" x2="189.50" y2="389.40" stroke="#111" stroke-width="0.9"/>
<text x="183.0" y="394.9" font-size="4.3" text-anchor="end" fill="#000" stroke="#000" stroke-width="0.06" textLength="8.4" lengthAdjust="spacingAndGlyphs">0.35</text>
<line x1="186.00" y1="393.40" x2="189.50" y2="393.40" stroke="#111" stroke-width="0.9"/>
<text x="183.0" y="398.9" font-size="4.3" text-anchor="end" fill="#000" stroke="#000" stroke-width="0.06" textLength="8.4" lengthAdjust="spacingAndGlyphs">0.30</text>
<line x1="186.00" y1="397.40" x2="189.50" y2="397.40" stroke="#111" stroke-width="0.9"/>
<text x="183.0" y="402.9" font-size="4.3" text-anchor="end" fill="#000" stroke="#000" stroke-width="0.06" textLength="8.4" lengthAdjust="spacingAndGlyphs">0.25</text>
<line x1="186.00" y1="401.40" x2="189.50" y2="401.40" stroke="#111" stroke-width="0.9"/>
<text x="183.0" y="406.9" font-size="4.3" text-anchor="end" fill="#000" stroke="#000" stroke-width="0.06" textLength="8.4" lengthAdjust="spacingAndGlyphs">0.20</text>
<line x1="186.00" y1="405.40" x2="189.50" y2="405.40" stroke="#111" stroke-width="0.9"/>
<text x="183.0" y="410.9" font-size="4.3" text-anchor="end" fill="#000" stroke="#000" stroke-width="0.06" textLength="8.4" lengthAdjust="spacingAndGlyphs">0.15</text>
<line x1="186.00" y1="409.40" x2="189.50" y2="409.40" stroke="#111" stroke-width="0.9"/>
<text x="183.0" y="414.9" font-size="4.3" text-anchor="end" fill="#000" stroke="#000" stroke-width="0.06" textLength="8.4" lengthAdjust="spacingAndGlyphs">0.10</text>
<line x1="186.00" y1="413.40" x2="189.50" y2="413.40" stroke="#111" stroke-width="0.9"/>
<text x="183.0" y="418.9" font-size="4.3" text-anchor="end" fill="#000" stroke="#000" stroke-width="0.06" textLength="8.4" lengthAdjust="spacingAndGlyphs">0.05</text>
<line x1="186.00" y1="417.40" x2="189.50" y2="417.40" stroke="#111" stroke-width="0.9"/>
<text x="183.0" y="422.9" font-size="4.3" text-anchor="end" fill="#000" stroke="#000" stroke-width="0.06" textLength="8.4" lengthAdjust="spacingAndGlyphs">0.00</text>
<line x1="186.00" y1="421.40" x2="189.50" y2="421.40" stroke="#111" stroke-width="0.9"/>
<text x="169.9" y="427.2" font-size="6.8" text-anchor="start" fill="#000" textLength="45.5" lengthAdjust="spacingAndGlyphs" font-weight="bold" transform="rotate(-90 169.9 427.2)">Enrichment score (ES)</text>
<line x1="189.50" y1="421.60" x2="278.80" y2="421.60" stroke="#d8d8d8" stroke-width="0.9"/>
<polyline points="189.9,407 190.5,401 191.1,396.5 191.7,393.5 192.2,391.7 193.3,389.9 194.4,390.6 195.6,390.4 196.6,389.8 197.8,389.5 199,388.4 200,387.6 201.2,387.5 202.2,386.9 203.7,385.8 205.2,384.8 206.6,386 208.1,386.9 209.6,387.1 211.1,387.3 212.6,387.1 214.3,387.3 216.5,388 218.7,388.9 220.9,390.5 223,392.3 225.2,394.3 227.3,396.2 229.5,398.2 231.6,400.2 233.8,402.1 236,403.8 238.1,405.3 240.3,406.7 242.5,408.2 244.6,409.6 246.8,410.9 249,412 251.1,412.9 253.3,413.9 255.5,414.8 257.6,415.8 259,416.4 260.5,416.6 262,416.9 263.4,416.3 264.9,417.3 266.3,417.7 267.8,417.5 269.2,418.2 270.6,419 272,419.7 273.5,420 274.9,420.7 276.3,421.6 277.8,422.1 278.5,421.4" fill="none" stroke="#11f011" stroke-width="1.3" stroke-linejoin="round"/>
<text x="184.6" y="444.9" font-size="4.3" text-anchor="end" fill="#000" stroke="#000" stroke-width="0.06" textLength="6.2" lengthAdjust="spacingAndGlyphs">2.5</text>
<line x1="186.00" y1="443.40" x2="189.50" y2="443.40" stroke="#111" stroke-width="0.9"/>
<text x="184.6" y="448.56" font-size="4.3" text-anchor="end" fill="#000" stroke="#000" stroke-width="0.06" textLength="6.2" lengthAdjust="spacingAndGlyphs">2.0</text>
<line x1="186.00" y1="447.06" x2="189.50" y2="447.06" stroke="#111" stroke-width="0.9"/>
<text x="184.6" y="452.21999999999997" font-size="4.3" text-anchor="end" fill="#000" stroke="#000" stroke-width="0.06" textLength="6.2" lengthAdjust="spacingAndGlyphs">1.5</text>
<line x1="186.00" y1="450.72" x2="189.50" y2="450.72" stroke="#111" stroke-width="0.9"/>
<text x="184.6" y="455.88" font-size="4.3" text-anchor="end" fill="#000" stroke="#000" stroke-width="0.06" textLength="6.2" lengthAdjust="spacingAndGlyphs">1.0</text>
<line x1="186.00" y1="454.38" x2="189.50" y2="454.38" stroke="#111" stroke-width="0.9"/>
<text x="184.6" y="459.53999999999996" font-size="4.3" text-anchor="end" fill="#000" stroke="#000" stroke-width="0.06" textLength="6.2" lengthAdjust="spacingAndGlyphs">0.5</text>
<line x1="186.00" y1="458.04" x2="189.50" y2="458.04" stroke="#111" stroke-width="0.9"/>
<text x="184.6" y="463.2" font-size="4.3" text-anchor="end" fill="#000" stroke="#000" stroke-width="0.06" textLength="6.2" lengthAdjust="spacingAndGlyphs">0.0</text>
<line x1="186.00" y1="461.70" x2="189.50" y2="461.70" stroke="#111" stroke-width="0.9"/>
<text x="184.6" y="466.85999999999996" font-size="4.3" text-anchor="end" fill="#000" stroke="#000" stroke-width="0.06" textLength="8.4" lengthAdjust="spacingAndGlyphs">-0.5</text>
<line x1="186.00" y1="465.36" x2="189.50" y2="465.36" stroke="#111" stroke-width="0.9"/>
<text x="184.6" y="470.52" font-size="4.3" text-anchor="end" fill="#000" stroke="#000" stroke-width="0.06" textLength="8.4" lengthAdjust="spacingAndGlyphs">-1.0</text>
<line x1="186.00" y1="469.02" x2="189.50" y2="469.02" stroke="#111" stroke-width="0.9"/>
<path d="M189.5,461.7 L189.5,458.6 C194,459.4 200,460.4 210,461.1 L231,461.7 L262,462.4 C270,462.8 275,463.5 278.6,466.4 L278.6,461.7 Z" fill="#d6d6d6"/>
<line x1="189.50" y1="461.70" x2="278.80" y2="461.70" stroke="#c8c8c8" stroke-width="0.5"/>
<line x1="231.50" y1="439.50" x2="231.50" y2="470.30" stroke="#c4c4c4" stroke-width="0.6" stroke-dasharray="1,1"/>
<text x="191.5" y="447.2" font-size="4.9" text-anchor="start" fill="#e85a5a" textLength="55.5" lengthAdjust="spacingAndGlyphs">'na_pos' (positively correlated)</text>
<text x="212.8" y="457.9" font-size="5.0" text-anchor="start" fill="#111" stroke="#111" stroke-width="0.05" textLength="35.3" lengthAdjust="spacingAndGlyphs">Zero cross at 8493</text>
<text x="215.8" y="469.6" font-size="4.9" text-anchor="start" fill="#7262c4" textLength="56.3" lengthAdjust="spacingAndGlyphs">'na_neg' (negatively correlated)</text>
<rect x="189.5" y="383.2" width="93.5" height="87.10000000000002" fill="none" stroke="#222" stroke-width="1.3"/>
<line x1="189.50" y1="470.30" x2="189.50" y2="473.10" stroke="#111" stroke-width="1"/>
<text x="190.9" y="479.2" font-size="4.7" text-anchor="end" fill="#333" transform="rotate(-45 190.9 479.2)">0</text>
<line x1="201.84" y1="470.30" x2="201.84" y2="473.10" stroke="#111" stroke-width="1"/>
<text x="203.24" y="479.2" font-size="4.7" text-anchor="end" fill="#333" transform="rotate(-45 203.24 479.2)">2,500</text>
<line x1="214.18" y1="470.30" x2="214.18" y2="473.10" stroke="#111" stroke-width="1"/>
<text x="215.58" y="479.2" font-size="4.7" text-anchor="end" fill="#333" transform="rotate(-45 215.58 479.2)">5,000</text>
<line x1="226.52" y1="470.30" x2="226.52" y2="473.10" stroke="#111" stroke-width="1"/>
<text x="227.92" y="479.2" font-size="4.7" text-anchor="end" fill="#333" transform="rotate(-45 227.92 479.2)">7,500</text>
<line x1="238.86" y1="470.30" x2="238.86" y2="473.10" stroke="#111" stroke-width="1"/>
<text x="240.26000000000002" y="479.2" font-size="4.7" text-anchor="end" fill="#333" transform="rotate(-45 240.26000000000002 479.2)">10,000</text>
<line x1="251.20" y1="470.30" x2="251.20" y2="473.10" stroke="#111" stroke-width="1"/>
<text x="252.6" y="479.2" font-size="4.7" text-anchor="end" fill="#333" transform="rotate(-45 252.6 479.2)">12,500</text>
<line x1="263.54" y1="470.30" x2="263.54" y2="473.10" stroke="#111" stroke-width="1"/>
<text x="264.93999999999994" y="479.2" font-size="4.7" text-anchor="end" fill="#333" transform="rotate(-45 264.93999999999994 479.2)">15,000</text>
<line x1="275.88" y1="470.30" x2="275.88" y2="473.10" stroke="#111" stroke-width="1"/>
<text x="277.28" y="479.2" font-size="4.7" text-anchor="end" fill="#333" transform="rotate(-45 277.28 479.2)">17,500</text>
<text x="162.8" y="471.7" font-size="6.8" text-anchor="start" fill="#000" textLength="36.2" lengthAdjust="spacingAndGlyphs" font-weight="bold" transform="rotate(-90 162.8 471.7)">Ranked list metric</text>
<text x="172.0" y="465.2" font-size="6.8" text-anchor="start" fill="#000" textLength="23.2" lengthAdjust="spacingAndGlyphs" font-weight="bold" transform="rotate(-90 172.0 465.2)">(PreRanked)</text>
<text x="212.7" y="498.6" font-size="7.4" text-anchor="start" fill="#000" textLength="46.7" lengthAdjust="spacingAndGlyphs" font-weight="bold">Rank in ordered dataset</text>
<line x1="175.80" y1="504.60" x2="179.70" y2="504.60" stroke="#33dd33" stroke-width="1.6"/>
<text x="183" y="506.4" font-size="5.2" text-anchor="start" fill="#000" textLength="33.6" lengthAdjust="spacingAndGlyphs">Enrichment profile</text>
<line x1="224.60" y1="504.60" x2="229.00" y2="504.60" stroke="#111" stroke-width="1.6"/>
<text x="231.4" y="506.4" font-size="5.2" text-anchor="start" fill="#000" textLength="5.8" lengthAdjust="spacingAndGlyphs">Hits</text>
<line x1="243.50" y1="503.60" x2="246.50" y2="503.60" stroke="#bbb" stroke-width="0.8" stroke-dasharray="0.7,0.7"/>
<line x1="248.00" y1="504.60" x2="252.50" y2="504.60" stroke="#bbb" stroke-width="1.2"/>
<text x="255" y="506.4" font-size="5.2" text-anchor="start" fill="#000" textLength="41" lengthAdjust="spacingAndGlyphs">Ranking metric scores</text>
<text x="259.8" y="515.5" font-size="4.8" text-anchor="end" fill="#222" textLength="8.8" lengthAdjust="spacingAndGlyphs">NES</text>
<text x="279.8" y="515.5" font-size="4.8" text-anchor="end" fill="#222" textLength="10.4" lengthAdjust="spacingAndGlyphs">1.931</text>
<text x="259.8" y="523.5" font-size="4.8" text-anchor="end" fill="#222" textLength="29.5" lengthAdjust="spacingAndGlyphs">Nominal P-value</text>
<text x="279.8" y="523.5" font-size="4.8" text-anchor="end" fill="#222" textLength="5.8" lengthAdjust="spacingAndGlyphs">0.0</text>
<text x="259.8" y="531.1" font-size="4.8" text-anchor="end" fill="#222" textLength="23" lengthAdjust="spacingAndGlyphs">FDR q-value</text>
<text x="279.8" y="531.1" font-size="4.8" text-anchor="end" fill="#222" textLength="11" lengthAdjust="spacingAndGlyphs">0.025</text>
<text x="298.5" y="352" font-size="12" text-anchor="start" fill="#000" stroke="#000" stroke-width="0.35" font-weight="bold">E</text>
<line x1="327.20" y1="390.20" x2="327.20" y2="470.90" stroke="#111" stroke-width="1.2"/>
<line x1="324.40" y1="470.40" x2="327.20" y2="470.40" stroke="#111" stroke-width="1"/>
<text x="321.0" y="473.4" font-size="8.4" text-anchor="end" fill="#000" stroke="#000" stroke-width="0.16">0</text>
<line x1="324.40" y1="444.67" x2="327.20" y2="444.67" stroke="#111" stroke-width="1"/>
<text x="321.0" y="447.66666666666663" font-size="8.4" text-anchor="end" fill="#000" stroke="#000" stroke-width="0.16">20</text>
<line x1="324.40" y1="418.93" x2="327.20" y2="418.93" stroke="#111" stroke-width="1"/>
<text x="321.0" y="421.9333333333333" font-size="8.4" text-anchor="end" fill="#000" stroke="#000" stroke-width="0.16">40</text>
<line x1="324.40" y1="393.20" x2="327.20" y2="393.20" stroke="#111" stroke-width="1"/>
<text x="321.0" y="396.2" font-size="8.4" text-anchor="end" fill="#000" stroke="#000" stroke-width="0.16">60</text>
<line x1="326.60" y1="470.40" x2="391.60" y2="470.40" stroke="#111" stroke-width="1.2"/>
<rect x="333.90" y="446.10" width="9.20" height="24.30" fill="#2a477f"/>
<line x1="338.50" y1="439.60" x2="338.50" y2="446.10" stroke="#2a477f" stroke-width="1.1"/>
<line x1="335.60" y1="439.60" x2="341.20" y2="439.60" stroke="#2a477f" stroke-width="1.1"/>
<rect x="347.70" y="469.20" width="5.10" height="1.00" fill="#2a477f"/>
<rect x="363.40" y="405.20" width="9.30" height="65.20" fill="#a5002f"/>
<line x1="368.00" y1="397.80" x2="368.00" y2="405.20" stroke="#a5002f" stroke-width="1.1"/>
<line x1="365.30" y1="397.80" x2="370.80" y2="397.80" stroke="#a5002f" stroke-width="1.1"/>
<rect x="375.9" y="467.6" width="9" height="2.7999999999999545" fill="#fff" stroke="#a5002f" stroke-width="0.9"/>
<line x1="378.40" y1="466.40" x2="382.60" y2="466.40" stroke="#a5002f" stroke-width="0.9"/>
<line x1="338.50" y1="470.40" x2="338.50" y2="473.40" stroke="#111" stroke-width="1"/>
<line x1="350.20" y1="470.40" x2="350.20" y2="473.40" stroke="#111" stroke-width="1"/>
<line x1="368.00" y1="470.40" x2="368.00" y2="473.40" stroke="#111" stroke-width="1"/>
<line x1="380.40" y1="470.40" x2="380.40" y2="473.40" stroke="#111" stroke-width="1"/>
<text x="338.5" y="483.3" font-size="7.6" text-anchor="middle" fill="#000" stroke="#000" stroke-width="0.16">-</text>
<text x="350.4" y="484.4" font-size="8.4" text-anchor="middle" fill="#000" stroke="#000" stroke-width="0.16">+</text>
<text x="368.3" y="483.3" font-size="7.6" text-anchor="middle" fill="#000" stroke="#000" stroke-width="0.16">-</text>
<text x="380.4" y="484.4" font-size="8.4" text-anchor="middle" fill="#000" stroke="#000" stroke-width="0.16">+</text>
<text x="386.1" y="483.9" font-size="8.3" text-anchor="start" fill="#000" stroke="#000" stroke-width="0.16" textLength="17.8" lengthAdjust="spacingAndGlyphs">BMS</text>
<polyline points="332.3,488 332.3,493.4 353.5,493.4 353.5,488" fill="none" stroke="#111" stroke-width="1"/>
<polyline points="363.4,488 363.4,493.4 383.5,493.4 383.5,488" fill="none" stroke="#111" stroke-width="1"/>
<text x="343.1" y="504" font-size="7.6" text-anchor="middle" fill="#000" stroke="#000" stroke-width="0.16" textLength="10.2" lengthAdjust="spacingAndGlyphs">ctrl</text>
<text x="380" y="504" font-size="7.6" text-anchor="middle" fill="#000" stroke="#000" stroke-width="0.16" textLength="43.9" lengthAdjust="spacingAndGlyphs">HOXA10-AS</text>
<text x="335.2" y="371.7" font-size="7.4" text-anchor="start" fill="#000" stroke="#000" stroke-width="0.16" textLength="19.8" lengthAdjust="spacingAndGlyphs">P=.02</text>
<text x="362.1" y="371.7" font-size="7.4" text-anchor="start" fill="#000" stroke="#000" stroke-width="0.16" textLength="28.5" lengthAdjust="spacingAndGlyphs">P=.0005</text>
<polyline points="337.1,380.8 337.1,376.8 352.5,376.8 352.5,380.8" fill="none" stroke="#111" stroke-width="1"/>
<polyline points="367.9,380.4 367.9,376.8 380.5,376.8 380.5,466" fill="none" stroke="#111" stroke-width="1"/>
<text x="339" y="389" font-size="7.4" text-anchor="start" fill="#000" stroke="#000" stroke-width="0.16" textLength="28.9" lengthAdjust="spacingAndGlyphs">P=.0028</text>
<polyline points="338.5,438.6 338.5,391 368.5,391 368.5,395.8" fill="none" stroke="#111" stroke-width="1"/>
<text x="305.8" y="468.1" font-size="8.4" text-anchor="start" fill="#000" textLength="76" lengthAdjust="spacingAndGlyphs" font-weight="bold" transform="rotate(-90 305.8 468.1)">NF-κB p65 (pSer529) (%)</text>
</svg>
</body></html>
